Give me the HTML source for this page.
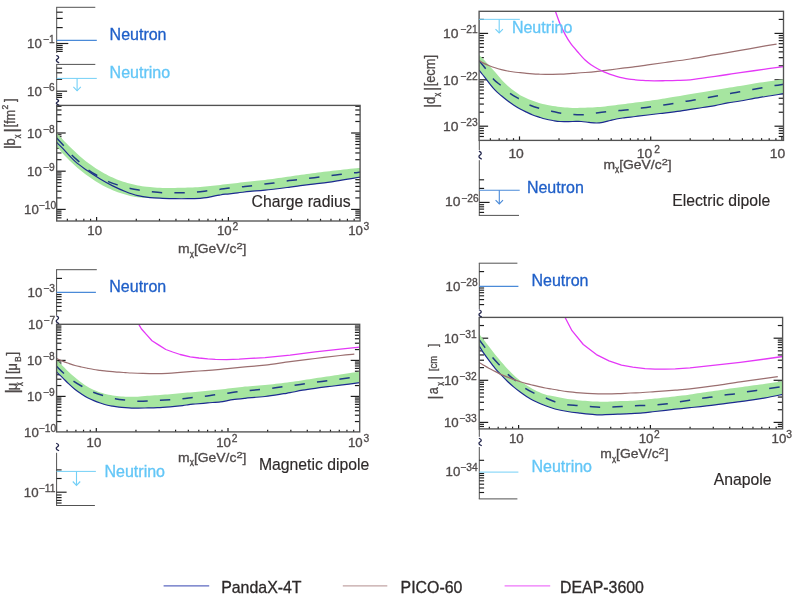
<!DOCTYPE html>
<html lang="en">
<head>
<meta charset="utf-8">
<title>Dark matter electromagnetic properties limits</title>
<style>
html,body{margin:0;padding:0;background:#fff;}
body{width:800px;height:598px;overflow:hidden;font-family:"Liberation Sans", sans-serif;}
svg{display:block;filter:blur(0.35px);}
</style>
</head>
<body>
<svg width="800" height="598" viewBox="0 0 800 598" font-family='"Liberation Sans", sans-serif'>
<rect width="800" height="598" fill="#ffffff"/>
<defs>
<clipPath id="ctl"><rect x="56.7" y="105.4" width="303.4" height="115.6"/></clipPath>
<clipPath id="ctr"><rect x="479.1" y="11.3" width="304.4" height="129.1"/></clipPath>
<clipPath id="cbl"><rect x="56.6" y="324.3" width="303.1" height="107.6"/></clipPath>
<clipPath id="cbr"><rect x="479.2" y="317.4" width="303.4" height="111.5"/></clipPath>
</defs>
<line x1="56.7" y1="217.87" x2="61.5" y2="217.87" stroke="#1e1e1e" stroke-width="1.2" />
<line x1="360.1" y1="217.87" x2="355.3" y2="217.87" stroke="#1e1e1e" stroke-width="1.2" />
<line x1="56.7" y1="215.32" x2="61.5" y2="215.32" stroke="#1e1e1e" stroke-width="1.2" />
<line x1="360.1" y1="215.32" x2="355.3" y2="215.32" stroke="#1e1e1e" stroke-width="1.2" />
<line x1="56.7" y1="213.1" x2="61.5" y2="213.1" stroke="#1e1e1e" stroke-width="1.2" />
<line x1="360.1" y1="213.1" x2="355.3" y2="213.1" stroke="#1e1e1e" stroke-width="1.2" />
<line x1="56.7" y1="211.15" x2="61.5" y2="211.15" stroke="#1e1e1e" stroke-width="1.2" />
<line x1="360.1" y1="211.15" x2="355.3" y2="211.15" stroke="#1e1e1e" stroke-width="1.2" />
<line x1="56.7" y1="209.4" x2="65.7" y2="209.4" stroke="#1e1e1e" stroke-width="1.2" />
<line x1="360.1" y1="209.4" x2="351.1" y2="209.4" stroke="#1e1e1e" stroke-width="1.2" />
<line x1="56.7" y1="197.9" x2="61.5" y2="197.9" stroke="#1e1e1e" stroke-width="1.2" />
<line x1="360.1" y1="197.9" x2="355.3" y2="197.9" stroke="#1e1e1e" stroke-width="1.2" />
<line x1="56.7" y1="191.17" x2="61.5" y2="191.17" stroke="#1e1e1e" stroke-width="1.2" />
<line x1="360.1" y1="191.17" x2="355.3" y2="191.17" stroke="#1e1e1e" stroke-width="1.2" />
<line x1="56.7" y1="186.4" x2="61.5" y2="186.4" stroke="#1e1e1e" stroke-width="1.2" />
<line x1="360.1" y1="186.4" x2="355.3" y2="186.4" stroke="#1e1e1e" stroke-width="1.2" />
<line x1="56.7" y1="182.7" x2="61.5" y2="182.7" stroke="#1e1e1e" stroke-width="1.2" />
<line x1="360.1" y1="182.7" x2="355.3" y2="182.7" stroke="#1e1e1e" stroke-width="1.2" />
<line x1="56.7" y1="179.67" x2="61.5" y2="179.67" stroke="#1e1e1e" stroke-width="1.2" />
<line x1="360.1" y1="179.67" x2="355.3" y2="179.67" stroke="#1e1e1e" stroke-width="1.2" />
<line x1="56.7" y1="177.12" x2="61.5" y2="177.12" stroke="#1e1e1e" stroke-width="1.2" />
<line x1="360.1" y1="177.12" x2="355.3" y2="177.12" stroke="#1e1e1e" stroke-width="1.2" />
<line x1="56.7" y1="174.9" x2="61.5" y2="174.9" stroke="#1e1e1e" stroke-width="1.2" />
<line x1="360.1" y1="174.9" x2="355.3" y2="174.9" stroke="#1e1e1e" stroke-width="1.2" />
<line x1="56.7" y1="172.95" x2="61.5" y2="172.95" stroke="#1e1e1e" stroke-width="1.2" />
<line x1="360.1" y1="172.95" x2="355.3" y2="172.95" stroke="#1e1e1e" stroke-width="1.2" />
<line x1="56.7" y1="171.2" x2="65.7" y2="171.2" stroke="#1e1e1e" stroke-width="1.2" />
<line x1="360.1" y1="171.2" x2="351.1" y2="171.2" stroke="#1e1e1e" stroke-width="1.2" />
<line x1="56.7" y1="159.7" x2="61.5" y2="159.7" stroke="#1e1e1e" stroke-width="1.2" />
<line x1="360.1" y1="159.7" x2="355.3" y2="159.7" stroke="#1e1e1e" stroke-width="1.2" />
<line x1="56.7" y1="152.97" x2="61.5" y2="152.97" stroke="#1e1e1e" stroke-width="1.2" />
<line x1="360.1" y1="152.97" x2="355.3" y2="152.97" stroke="#1e1e1e" stroke-width="1.2" />
<line x1="56.7" y1="148.2" x2="61.5" y2="148.2" stroke="#1e1e1e" stroke-width="1.2" />
<line x1="360.1" y1="148.2" x2="355.3" y2="148.2" stroke="#1e1e1e" stroke-width="1.2" />
<line x1="56.7" y1="144.5" x2="61.5" y2="144.5" stroke="#1e1e1e" stroke-width="1.2" />
<line x1="360.1" y1="144.5" x2="355.3" y2="144.5" stroke="#1e1e1e" stroke-width="1.2" />
<line x1="56.7" y1="141.47" x2="61.5" y2="141.47" stroke="#1e1e1e" stroke-width="1.2" />
<line x1="360.1" y1="141.47" x2="355.3" y2="141.47" stroke="#1e1e1e" stroke-width="1.2" />
<line x1="56.7" y1="138.92" x2="61.5" y2="138.92" stroke="#1e1e1e" stroke-width="1.2" />
<line x1="360.1" y1="138.92" x2="355.3" y2="138.92" stroke="#1e1e1e" stroke-width="1.2" />
<line x1="56.7" y1="136.7" x2="61.5" y2="136.7" stroke="#1e1e1e" stroke-width="1.2" />
<line x1="360.1" y1="136.7" x2="355.3" y2="136.7" stroke="#1e1e1e" stroke-width="1.2" />
<line x1="56.7" y1="134.75" x2="61.5" y2="134.75" stroke="#1e1e1e" stroke-width="1.2" />
<line x1="360.1" y1="134.75" x2="355.3" y2="134.75" stroke="#1e1e1e" stroke-width="1.2" />
<line x1="56.7" y1="133" x2="65.7" y2="133" stroke="#1e1e1e" stroke-width="1.2" />
<line x1="360.1" y1="133" x2="351.1" y2="133" stroke="#1e1e1e" stroke-width="1.2" />
<line x1="56.7" y1="121.5" x2="61.5" y2="121.5" stroke="#1e1e1e" stroke-width="1.2" />
<line x1="360.1" y1="121.5" x2="355.3" y2="121.5" stroke="#1e1e1e" stroke-width="1.2" />
<line x1="56.7" y1="114.77" x2="61.5" y2="114.77" stroke="#1e1e1e" stroke-width="1.2" />
<line x1="360.1" y1="114.77" x2="355.3" y2="114.77" stroke="#1e1e1e" stroke-width="1.2" />
<line x1="56.7" y1="110" x2="61.5" y2="110" stroke="#1e1e1e" stroke-width="1.2" />
<line x1="360.1" y1="110" x2="355.3" y2="110" stroke="#1e1e1e" stroke-width="1.2" />
<line x1="56.7" y1="106.3" x2="61.5" y2="106.3" stroke="#1e1e1e" stroke-width="1.2" />
<line x1="360.1" y1="106.3" x2="355.3" y2="106.3" stroke="#1e1e1e" stroke-width="1.2" />
<line x1="67.36" y1="221" x2="67.36" y2="218.8" stroke="#1e1e1e" stroke-width="1.2" />
<line x1="76.18" y1="221" x2="76.18" y2="218.8" stroke="#1e1e1e" stroke-width="1.2" />
<line x1="83.83" y1="221" x2="83.83" y2="218.8" stroke="#1e1e1e" stroke-width="1.2" />
<line x1="90.57" y1="221" x2="90.57" y2="218.8" stroke="#1e1e1e" stroke-width="1.2" />
<line x1="96.6" y1="221" x2="96.6" y2="217" stroke="#1e1e1e" stroke-width="1.2" />
<line x1="136.28" y1="221" x2="136.28" y2="218.8" stroke="#1e1e1e" stroke-width="1.2" />
<line x1="159.48" y1="221" x2="159.48" y2="218.8" stroke="#1e1e1e" stroke-width="1.2" />
<line x1="175.95" y1="221" x2="175.95" y2="218.8" stroke="#1e1e1e" stroke-width="1.2" />
<line x1="188.72" y1="221" x2="188.72" y2="218.8" stroke="#1e1e1e" stroke-width="1.2" />
<line x1="199.16" y1="221" x2="199.16" y2="218.8" stroke="#1e1e1e" stroke-width="1.2" />
<line x1="207.98" y1="221" x2="207.98" y2="218.8" stroke="#1e1e1e" stroke-width="1.2" />
<line x1="215.63" y1="221" x2="215.63" y2="218.8" stroke="#1e1e1e" stroke-width="1.2" />
<line x1="222.37" y1="221" x2="222.37" y2="218.8" stroke="#1e1e1e" stroke-width="1.2" />
<line x1="228.4" y1="221" x2="228.4" y2="217" stroke="#1e1e1e" stroke-width="1.2" />
<line x1="268.08" y1="221" x2="268.08" y2="218.8" stroke="#1e1e1e" stroke-width="1.2" />
<line x1="291.28" y1="221" x2="291.28" y2="218.8" stroke="#1e1e1e" stroke-width="1.2" />
<line x1="307.75" y1="221" x2="307.75" y2="218.8" stroke="#1e1e1e" stroke-width="1.2" />
<line x1="320.52" y1="221" x2="320.52" y2="218.8" stroke="#1e1e1e" stroke-width="1.2" />
<line x1="330.96" y1="221" x2="330.96" y2="218.8" stroke="#1e1e1e" stroke-width="1.2" />
<line x1="339.78" y1="221" x2="339.78" y2="218.8" stroke="#1e1e1e" stroke-width="1.2" />
<line x1="347.43" y1="221" x2="347.43" y2="218.8" stroke="#1e1e1e" stroke-width="1.2" />
<line x1="354.17" y1="221" x2="354.17" y2="218.8" stroke="#1e1e1e" stroke-width="1.2" />
<line x1="479.1" y1="136.49" x2="483.9" y2="136.49" stroke="#1e1e1e" stroke-width="1.2" />
<line x1="783.5" y1="136.49" x2="778.7" y2="136.49" stroke="#1e1e1e" stroke-width="1.2" />
<line x1="479.1" y1="133.39" x2="483.9" y2="133.39" stroke="#1e1e1e" stroke-width="1.2" />
<line x1="783.5" y1="133.39" x2="778.7" y2="133.39" stroke="#1e1e1e" stroke-width="1.2" />
<line x1="479.1" y1="130.7" x2="483.9" y2="130.7" stroke="#1e1e1e" stroke-width="1.2" />
<line x1="783.5" y1="130.7" x2="778.7" y2="130.7" stroke="#1e1e1e" stroke-width="1.2" />
<line x1="479.1" y1="128.32" x2="483.9" y2="128.32" stroke="#1e1e1e" stroke-width="1.2" />
<line x1="783.5" y1="128.32" x2="778.7" y2="128.32" stroke="#1e1e1e" stroke-width="1.2" />
<line x1="479.1" y1="126.2" x2="488.1" y2="126.2" stroke="#1e1e1e" stroke-width="1.2" />
<line x1="783.5" y1="126.2" x2="774.5" y2="126.2" stroke="#1e1e1e" stroke-width="1.2" />
<line x1="479.1" y1="112.23" x2="483.9" y2="112.23" stroke="#1e1e1e" stroke-width="1.2" />
<line x1="783.5" y1="112.23" x2="778.7" y2="112.23" stroke="#1e1e1e" stroke-width="1.2" />
<line x1="479.1" y1="104.06" x2="483.9" y2="104.06" stroke="#1e1e1e" stroke-width="1.2" />
<line x1="783.5" y1="104.06" x2="778.7" y2="104.06" stroke="#1e1e1e" stroke-width="1.2" />
<line x1="479.1" y1="98.26" x2="483.9" y2="98.26" stroke="#1e1e1e" stroke-width="1.2" />
<line x1="783.5" y1="98.26" x2="778.7" y2="98.26" stroke="#1e1e1e" stroke-width="1.2" />
<line x1="479.1" y1="93.77" x2="483.9" y2="93.77" stroke="#1e1e1e" stroke-width="1.2" />
<line x1="783.5" y1="93.77" x2="778.7" y2="93.77" stroke="#1e1e1e" stroke-width="1.2" />
<line x1="479.1" y1="90.09" x2="483.9" y2="90.09" stroke="#1e1e1e" stroke-width="1.2" />
<line x1="783.5" y1="90.09" x2="778.7" y2="90.09" stroke="#1e1e1e" stroke-width="1.2" />
<line x1="479.1" y1="86.99" x2="483.9" y2="86.99" stroke="#1e1e1e" stroke-width="1.2" />
<line x1="783.5" y1="86.99" x2="778.7" y2="86.99" stroke="#1e1e1e" stroke-width="1.2" />
<line x1="479.1" y1="84.3" x2="483.9" y2="84.3" stroke="#1e1e1e" stroke-width="1.2" />
<line x1="783.5" y1="84.3" x2="778.7" y2="84.3" stroke="#1e1e1e" stroke-width="1.2" />
<line x1="479.1" y1="81.92" x2="483.9" y2="81.92" stroke="#1e1e1e" stroke-width="1.2" />
<line x1="783.5" y1="81.92" x2="778.7" y2="81.92" stroke="#1e1e1e" stroke-width="1.2" />
<line x1="479.1" y1="79.8" x2="488.1" y2="79.8" stroke="#1e1e1e" stroke-width="1.2" />
<line x1="783.5" y1="79.8" x2="774.5" y2="79.8" stroke="#1e1e1e" stroke-width="1.2" />
<line x1="479.1" y1="65.83" x2="483.9" y2="65.83" stroke="#1e1e1e" stroke-width="1.2" />
<line x1="783.5" y1="65.83" x2="778.7" y2="65.83" stroke="#1e1e1e" stroke-width="1.2" />
<line x1="479.1" y1="57.66" x2="483.9" y2="57.66" stroke="#1e1e1e" stroke-width="1.2" />
<line x1="783.5" y1="57.66" x2="778.7" y2="57.66" stroke="#1e1e1e" stroke-width="1.2" />
<line x1="479.1" y1="51.86" x2="483.9" y2="51.86" stroke="#1e1e1e" stroke-width="1.2" />
<line x1="783.5" y1="51.86" x2="778.7" y2="51.86" stroke="#1e1e1e" stroke-width="1.2" />
<line x1="479.1" y1="47.37" x2="483.9" y2="47.37" stroke="#1e1e1e" stroke-width="1.2" />
<line x1="783.5" y1="47.37" x2="778.7" y2="47.37" stroke="#1e1e1e" stroke-width="1.2" />
<line x1="479.1" y1="43.69" x2="483.9" y2="43.69" stroke="#1e1e1e" stroke-width="1.2" />
<line x1="783.5" y1="43.69" x2="778.7" y2="43.69" stroke="#1e1e1e" stroke-width="1.2" />
<line x1="479.1" y1="40.59" x2="483.9" y2="40.59" stroke="#1e1e1e" stroke-width="1.2" />
<line x1="783.5" y1="40.59" x2="778.7" y2="40.59" stroke="#1e1e1e" stroke-width="1.2" />
<line x1="479.1" y1="37.9" x2="483.9" y2="37.9" stroke="#1e1e1e" stroke-width="1.2" />
<line x1="783.5" y1="37.9" x2="778.7" y2="37.9" stroke="#1e1e1e" stroke-width="1.2" />
<line x1="479.1" y1="35.52" x2="483.9" y2="35.52" stroke="#1e1e1e" stroke-width="1.2" />
<line x1="783.5" y1="35.52" x2="778.7" y2="35.52" stroke="#1e1e1e" stroke-width="1.2" />
<line x1="479.1" y1="33.4" x2="488.1" y2="33.4" stroke="#1e1e1e" stroke-width="1.2" />
<line x1="783.5" y1="33.4" x2="774.5" y2="33.4" stroke="#1e1e1e" stroke-width="1.2" />
<line x1="479.1" y1="19.43" x2="483.9" y2="19.43" stroke="#1e1e1e" stroke-width="1.2" />
<line x1="783.5" y1="19.43" x2="778.7" y2="19.43" stroke="#1e1e1e" stroke-width="1.2" />
<line x1="490.39" y1="140.4" x2="490.39" y2="138.2" stroke="#1e1e1e" stroke-width="1.2" />
<line x1="499.18" y1="140.4" x2="499.18" y2="138.2" stroke="#1e1e1e" stroke-width="1.2" />
<line x1="506.79" y1="140.4" x2="506.79" y2="138.2" stroke="#1e1e1e" stroke-width="1.2" />
<line x1="513.5" y1="140.4" x2="513.5" y2="138.2" stroke="#1e1e1e" stroke-width="1.2" />
<line x1="519.5" y1="140.4" x2="519.5" y2="136.4" stroke="#1e1e1e" stroke-width="1.2" />
<line x1="559" y1="140.4" x2="559" y2="138.2" stroke="#1e1e1e" stroke-width="1.2" />
<line x1="582.1" y1="140.4" x2="582.1" y2="138.2" stroke="#1e1e1e" stroke-width="1.2" />
<line x1="598.49" y1="140.4" x2="598.49" y2="138.2" stroke="#1e1e1e" stroke-width="1.2" />
<line x1="611.2" y1="140.4" x2="611.2" y2="138.2" stroke="#1e1e1e" stroke-width="1.2" />
<line x1="621.59" y1="140.4" x2="621.59" y2="138.2" stroke="#1e1e1e" stroke-width="1.2" />
<line x1="630.38" y1="140.4" x2="630.38" y2="138.2" stroke="#1e1e1e" stroke-width="1.2" />
<line x1="637.99" y1="140.4" x2="637.99" y2="138.2" stroke="#1e1e1e" stroke-width="1.2" />
<line x1="644.7" y1="140.4" x2="644.7" y2="138.2" stroke="#1e1e1e" stroke-width="1.2" />
<line x1="650.7" y1="140.4" x2="650.7" y2="136.4" stroke="#1e1e1e" stroke-width="1.2" />
<line x1="690.2" y1="140.4" x2="690.2" y2="138.2" stroke="#1e1e1e" stroke-width="1.2" />
<line x1="713.3" y1="140.4" x2="713.3" y2="138.2" stroke="#1e1e1e" stroke-width="1.2" />
<line x1="729.69" y1="140.4" x2="729.69" y2="138.2" stroke="#1e1e1e" stroke-width="1.2" />
<line x1="742.4" y1="140.4" x2="742.4" y2="138.2" stroke="#1e1e1e" stroke-width="1.2" />
<line x1="752.79" y1="140.4" x2="752.79" y2="138.2" stroke="#1e1e1e" stroke-width="1.2" />
<line x1="761.58" y1="140.4" x2="761.58" y2="138.2" stroke="#1e1e1e" stroke-width="1.2" />
<line x1="769.19" y1="140.4" x2="769.19" y2="138.2" stroke="#1e1e1e" stroke-width="1.2" />
<line x1="775.9" y1="140.4" x2="775.9" y2="138.2" stroke="#1e1e1e" stroke-width="1.2" />
<line x1="781.9" y1="140.4" x2="781.9" y2="136.4" stroke="#1e1e1e" stroke-width="1.2" />
<line x1="56.6" y1="421.56" x2="61.4" y2="421.56" stroke="#1e1e1e" stroke-width="1.2" />
<line x1="359.7" y1="421.56" x2="354.9" y2="421.56" stroke="#1e1e1e" stroke-width="1.2" />
<line x1="56.6" y1="415.22" x2="61.4" y2="415.22" stroke="#1e1e1e" stroke-width="1.2" />
<line x1="359.7" y1="415.22" x2="354.9" y2="415.22" stroke="#1e1e1e" stroke-width="1.2" />
<line x1="56.6" y1="410.73" x2="61.4" y2="410.73" stroke="#1e1e1e" stroke-width="1.2" />
<line x1="359.7" y1="410.73" x2="354.9" y2="410.73" stroke="#1e1e1e" stroke-width="1.2" />
<line x1="56.6" y1="407.24" x2="61.4" y2="407.24" stroke="#1e1e1e" stroke-width="1.2" />
<line x1="359.7" y1="407.24" x2="354.9" y2="407.24" stroke="#1e1e1e" stroke-width="1.2" />
<line x1="56.6" y1="404.39" x2="61.4" y2="404.39" stroke="#1e1e1e" stroke-width="1.2" />
<line x1="359.7" y1="404.39" x2="354.9" y2="404.39" stroke="#1e1e1e" stroke-width="1.2" />
<line x1="56.6" y1="401.98" x2="61.4" y2="401.98" stroke="#1e1e1e" stroke-width="1.2" />
<line x1="359.7" y1="401.98" x2="354.9" y2="401.98" stroke="#1e1e1e" stroke-width="1.2" />
<line x1="56.6" y1="399.89" x2="61.4" y2="399.89" stroke="#1e1e1e" stroke-width="1.2" />
<line x1="359.7" y1="399.89" x2="354.9" y2="399.89" stroke="#1e1e1e" stroke-width="1.2" />
<line x1="56.6" y1="398.05" x2="61.4" y2="398.05" stroke="#1e1e1e" stroke-width="1.2" />
<line x1="359.7" y1="398.05" x2="354.9" y2="398.05" stroke="#1e1e1e" stroke-width="1.2" />
<line x1="56.6" y1="396.4" x2="65.6" y2="396.4" stroke="#1e1e1e" stroke-width="1.2" />
<line x1="359.7" y1="396.4" x2="350.7" y2="396.4" stroke="#1e1e1e" stroke-width="1.2" />
<line x1="56.6" y1="385.56" x2="61.4" y2="385.56" stroke="#1e1e1e" stroke-width="1.2" />
<line x1="359.7" y1="385.56" x2="354.9" y2="385.56" stroke="#1e1e1e" stroke-width="1.2" />
<line x1="56.6" y1="379.22" x2="61.4" y2="379.22" stroke="#1e1e1e" stroke-width="1.2" />
<line x1="359.7" y1="379.22" x2="354.9" y2="379.22" stroke="#1e1e1e" stroke-width="1.2" />
<line x1="56.6" y1="374.73" x2="61.4" y2="374.73" stroke="#1e1e1e" stroke-width="1.2" />
<line x1="359.7" y1="374.73" x2="354.9" y2="374.73" stroke="#1e1e1e" stroke-width="1.2" />
<line x1="56.6" y1="371.24" x2="61.4" y2="371.24" stroke="#1e1e1e" stroke-width="1.2" />
<line x1="359.7" y1="371.24" x2="354.9" y2="371.24" stroke="#1e1e1e" stroke-width="1.2" />
<line x1="56.6" y1="368.39" x2="61.4" y2="368.39" stroke="#1e1e1e" stroke-width="1.2" />
<line x1="359.7" y1="368.39" x2="354.9" y2="368.39" stroke="#1e1e1e" stroke-width="1.2" />
<line x1="56.6" y1="365.98" x2="61.4" y2="365.98" stroke="#1e1e1e" stroke-width="1.2" />
<line x1="359.7" y1="365.98" x2="354.9" y2="365.98" stroke="#1e1e1e" stroke-width="1.2" />
<line x1="56.6" y1="363.89" x2="61.4" y2="363.89" stroke="#1e1e1e" stroke-width="1.2" />
<line x1="359.7" y1="363.89" x2="354.9" y2="363.89" stroke="#1e1e1e" stroke-width="1.2" />
<line x1="56.6" y1="362.05" x2="61.4" y2="362.05" stroke="#1e1e1e" stroke-width="1.2" />
<line x1="359.7" y1="362.05" x2="354.9" y2="362.05" stroke="#1e1e1e" stroke-width="1.2" />
<line x1="56.6" y1="360.4" x2="65.6" y2="360.4" stroke="#1e1e1e" stroke-width="1.2" />
<line x1="359.7" y1="360.4" x2="350.7" y2="360.4" stroke="#1e1e1e" stroke-width="1.2" />
<line x1="56.6" y1="349.56" x2="61.4" y2="349.56" stroke="#1e1e1e" stroke-width="1.2" />
<line x1="359.7" y1="349.56" x2="354.9" y2="349.56" stroke="#1e1e1e" stroke-width="1.2" />
<line x1="56.6" y1="343.22" x2="61.4" y2="343.22" stroke="#1e1e1e" stroke-width="1.2" />
<line x1="359.7" y1="343.22" x2="354.9" y2="343.22" stroke="#1e1e1e" stroke-width="1.2" />
<line x1="56.6" y1="338.73" x2="61.4" y2="338.73" stroke="#1e1e1e" stroke-width="1.2" />
<line x1="359.7" y1="338.73" x2="354.9" y2="338.73" stroke="#1e1e1e" stroke-width="1.2" />
<line x1="56.6" y1="335.24" x2="61.4" y2="335.24" stroke="#1e1e1e" stroke-width="1.2" />
<line x1="359.7" y1="335.24" x2="354.9" y2="335.24" stroke="#1e1e1e" stroke-width="1.2" />
<line x1="56.6" y1="332.39" x2="61.4" y2="332.39" stroke="#1e1e1e" stroke-width="1.2" />
<line x1="359.7" y1="332.39" x2="354.9" y2="332.39" stroke="#1e1e1e" stroke-width="1.2" />
<line x1="56.6" y1="329.98" x2="61.4" y2="329.98" stroke="#1e1e1e" stroke-width="1.2" />
<line x1="359.7" y1="329.98" x2="354.9" y2="329.98" stroke="#1e1e1e" stroke-width="1.2" />
<line x1="56.6" y1="327.89" x2="61.4" y2="327.89" stroke="#1e1e1e" stroke-width="1.2" />
<line x1="359.7" y1="327.89" x2="354.9" y2="327.89" stroke="#1e1e1e" stroke-width="1.2" />
<line x1="56.6" y1="326.05" x2="61.4" y2="326.05" stroke="#1e1e1e" stroke-width="1.2" />
<line x1="359.7" y1="326.05" x2="354.9" y2="326.05" stroke="#1e1e1e" stroke-width="1.2" />
<line x1="67.08" y1="431.9" x2="67.08" y2="429.7" stroke="#1e1e1e" stroke-width="1.2" />
<line x1="75.9" y1="431.9" x2="75.9" y2="429.7" stroke="#1e1e1e" stroke-width="1.2" />
<line x1="83.54" y1="431.9" x2="83.54" y2="429.7" stroke="#1e1e1e" stroke-width="1.2" />
<line x1="90.27" y1="431.9" x2="90.27" y2="429.7" stroke="#1e1e1e" stroke-width="1.2" />
<line x1="96.3" y1="431.9" x2="96.3" y2="427.9" stroke="#1e1e1e" stroke-width="1.2" />
<line x1="135.95" y1="431.9" x2="135.95" y2="429.7" stroke="#1e1e1e" stroke-width="1.2" />
<line x1="159.14" y1="431.9" x2="159.14" y2="429.7" stroke="#1e1e1e" stroke-width="1.2" />
<line x1="175.59" y1="431.9" x2="175.59" y2="429.7" stroke="#1e1e1e" stroke-width="1.2" />
<line x1="188.35" y1="431.9" x2="188.35" y2="429.7" stroke="#1e1e1e" stroke-width="1.2" />
<line x1="198.78" y1="431.9" x2="198.78" y2="429.7" stroke="#1e1e1e" stroke-width="1.2" />
<line x1="207.6" y1="431.9" x2="207.6" y2="429.7" stroke="#1e1e1e" stroke-width="1.2" />
<line x1="215.24" y1="431.9" x2="215.24" y2="429.7" stroke="#1e1e1e" stroke-width="1.2" />
<line x1="221.97" y1="431.9" x2="221.97" y2="429.7" stroke="#1e1e1e" stroke-width="1.2" />
<line x1="228" y1="431.9" x2="228" y2="427.9" stroke="#1e1e1e" stroke-width="1.2" />
<line x1="267.65" y1="431.9" x2="267.65" y2="429.7" stroke="#1e1e1e" stroke-width="1.2" />
<line x1="290.84" y1="431.9" x2="290.84" y2="429.7" stroke="#1e1e1e" stroke-width="1.2" />
<line x1="307.29" y1="431.9" x2="307.29" y2="429.7" stroke="#1e1e1e" stroke-width="1.2" />
<line x1="320.05" y1="431.9" x2="320.05" y2="429.7" stroke="#1e1e1e" stroke-width="1.2" />
<line x1="330.48" y1="431.9" x2="330.48" y2="429.7" stroke="#1e1e1e" stroke-width="1.2" />
<line x1="339.3" y1="431.9" x2="339.3" y2="429.7" stroke="#1e1e1e" stroke-width="1.2" />
<line x1="346.94" y1="431.9" x2="346.94" y2="429.7" stroke="#1e1e1e" stroke-width="1.2" />
<line x1="353.67" y1="431.9" x2="353.67" y2="429.7" stroke="#1e1e1e" stroke-width="1.2" />
<line x1="479.2" y1="426.48" x2="484" y2="426.48" stroke="#1e1e1e" stroke-width="1.2" />
<line x1="782.6" y1="426.48" x2="777.8" y2="426.48" stroke="#1e1e1e" stroke-width="1.2" />
<line x1="479.2" y1="424.33" x2="484" y2="424.33" stroke="#1e1e1e" stroke-width="1.2" />
<line x1="782.6" y1="424.33" x2="777.8" y2="424.33" stroke="#1e1e1e" stroke-width="1.2" />
<line x1="479.2" y1="422.4" x2="488.2" y2="422.4" stroke="#1e1e1e" stroke-width="1.2" />
<line x1="782.6" y1="422.4" x2="773.6" y2="422.4" stroke="#1e1e1e" stroke-width="1.2" />
<line x1="479.2" y1="409.73" x2="484" y2="409.73" stroke="#1e1e1e" stroke-width="1.2" />
<line x1="782.6" y1="409.73" x2="777.8" y2="409.73" stroke="#1e1e1e" stroke-width="1.2" />
<line x1="479.2" y1="402.31" x2="484" y2="402.31" stroke="#1e1e1e" stroke-width="1.2" />
<line x1="782.6" y1="402.31" x2="777.8" y2="402.31" stroke="#1e1e1e" stroke-width="1.2" />
<line x1="479.2" y1="397.05" x2="484" y2="397.05" stroke="#1e1e1e" stroke-width="1.2" />
<line x1="782.6" y1="397.05" x2="777.8" y2="397.05" stroke="#1e1e1e" stroke-width="1.2" />
<line x1="479.2" y1="392.97" x2="484" y2="392.97" stroke="#1e1e1e" stroke-width="1.2" />
<line x1="782.6" y1="392.97" x2="777.8" y2="392.97" stroke="#1e1e1e" stroke-width="1.2" />
<line x1="479.2" y1="389.64" x2="484" y2="389.64" stroke="#1e1e1e" stroke-width="1.2" />
<line x1="782.6" y1="389.64" x2="777.8" y2="389.64" stroke="#1e1e1e" stroke-width="1.2" />
<line x1="479.2" y1="386.82" x2="484" y2="386.82" stroke="#1e1e1e" stroke-width="1.2" />
<line x1="782.6" y1="386.82" x2="777.8" y2="386.82" stroke="#1e1e1e" stroke-width="1.2" />
<line x1="479.2" y1="384.38" x2="484" y2="384.38" stroke="#1e1e1e" stroke-width="1.2" />
<line x1="782.6" y1="384.38" x2="777.8" y2="384.38" stroke="#1e1e1e" stroke-width="1.2" />
<line x1="479.2" y1="382.23" x2="484" y2="382.23" stroke="#1e1e1e" stroke-width="1.2" />
<line x1="782.6" y1="382.23" x2="777.8" y2="382.23" stroke="#1e1e1e" stroke-width="1.2" />
<line x1="479.2" y1="380.3" x2="488.2" y2="380.3" stroke="#1e1e1e" stroke-width="1.2" />
<line x1="782.6" y1="380.3" x2="773.6" y2="380.3" stroke="#1e1e1e" stroke-width="1.2" />
<line x1="479.2" y1="367.63" x2="484" y2="367.63" stroke="#1e1e1e" stroke-width="1.2" />
<line x1="782.6" y1="367.63" x2="777.8" y2="367.63" stroke="#1e1e1e" stroke-width="1.2" />
<line x1="479.2" y1="360.21" x2="484" y2="360.21" stroke="#1e1e1e" stroke-width="1.2" />
<line x1="782.6" y1="360.21" x2="777.8" y2="360.21" stroke="#1e1e1e" stroke-width="1.2" />
<line x1="479.2" y1="354.95" x2="484" y2="354.95" stroke="#1e1e1e" stroke-width="1.2" />
<line x1="782.6" y1="354.95" x2="777.8" y2="354.95" stroke="#1e1e1e" stroke-width="1.2" />
<line x1="479.2" y1="350.87" x2="484" y2="350.87" stroke="#1e1e1e" stroke-width="1.2" />
<line x1="782.6" y1="350.87" x2="777.8" y2="350.87" stroke="#1e1e1e" stroke-width="1.2" />
<line x1="479.2" y1="347.54" x2="484" y2="347.54" stroke="#1e1e1e" stroke-width="1.2" />
<line x1="782.6" y1="347.54" x2="777.8" y2="347.54" stroke="#1e1e1e" stroke-width="1.2" />
<line x1="479.2" y1="344.72" x2="484" y2="344.72" stroke="#1e1e1e" stroke-width="1.2" />
<line x1="782.6" y1="344.72" x2="777.8" y2="344.72" stroke="#1e1e1e" stroke-width="1.2" />
<line x1="479.2" y1="342.28" x2="484" y2="342.28" stroke="#1e1e1e" stroke-width="1.2" />
<line x1="782.6" y1="342.28" x2="777.8" y2="342.28" stroke="#1e1e1e" stroke-width="1.2" />
<line x1="479.2" y1="340.13" x2="484" y2="340.13" stroke="#1e1e1e" stroke-width="1.2" />
<line x1="782.6" y1="340.13" x2="777.8" y2="340.13" stroke="#1e1e1e" stroke-width="1.2" />
<line x1="479.2" y1="338.2" x2="488.2" y2="338.2" stroke="#1e1e1e" stroke-width="1.2" />
<line x1="782.6" y1="338.2" x2="773.6" y2="338.2" stroke="#1e1e1e" stroke-width="1.2" />
<line x1="479.2" y1="325.53" x2="484" y2="325.53" stroke="#1e1e1e" stroke-width="1.2" />
<line x1="782.6" y1="325.53" x2="777.8" y2="325.53" stroke="#1e1e1e" stroke-width="1.2" />
<line x1="489.36" y1="428.9" x2="489.36" y2="426.7" stroke="#1e1e1e" stroke-width="1.2" />
<line x1="498.18" y1="428.9" x2="498.18" y2="426.7" stroke="#1e1e1e" stroke-width="1.2" />
<line x1="505.83" y1="428.9" x2="505.83" y2="426.7" stroke="#1e1e1e" stroke-width="1.2" />
<line x1="512.57" y1="428.9" x2="512.57" y2="426.7" stroke="#1e1e1e" stroke-width="1.2" />
<line x1="518.6" y1="428.9" x2="518.6" y2="424.9" stroke="#1e1e1e" stroke-width="1.2" />
<line x1="558.28" y1="428.9" x2="558.28" y2="426.7" stroke="#1e1e1e" stroke-width="1.2" />
<line x1="581.48" y1="428.9" x2="581.48" y2="426.7" stroke="#1e1e1e" stroke-width="1.2" />
<line x1="597.95" y1="428.9" x2="597.95" y2="426.7" stroke="#1e1e1e" stroke-width="1.2" />
<line x1="610.72" y1="428.9" x2="610.72" y2="426.7" stroke="#1e1e1e" stroke-width="1.2" />
<line x1="621.16" y1="428.9" x2="621.16" y2="426.7" stroke="#1e1e1e" stroke-width="1.2" />
<line x1="629.98" y1="428.9" x2="629.98" y2="426.7" stroke="#1e1e1e" stroke-width="1.2" />
<line x1="637.63" y1="428.9" x2="637.63" y2="426.7" stroke="#1e1e1e" stroke-width="1.2" />
<line x1="644.37" y1="428.9" x2="644.37" y2="426.7" stroke="#1e1e1e" stroke-width="1.2" />
<line x1="650.4" y1="428.9" x2="650.4" y2="424.9" stroke="#1e1e1e" stroke-width="1.2" />
<line x1="690.08" y1="428.9" x2="690.08" y2="426.7" stroke="#1e1e1e" stroke-width="1.2" />
<line x1="713.28" y1="428.9" x2="713.28" y2="426.7" stroke="#1e1e1e" stroke-width="1.2" />
<line x1="729.75" y1="428.9" x2="729.75" y2="426.7" stroke="#1e1e1e" stroke-width="1.2" />
<line x1="742.52" y1="428.9" x2="742.52" y2="426.7" stroke="#1e1e1e" stroke-width="1.2" />
<line x1="752.96" y1="428.9" x2="752.96" y2="426.7" stroke="#1e1e1e" stroke-width="1.2" />
<line x1="761.78" y1="428.9" x2="761.78" y2="426.7" stroke="#1e1e1e" stroke-width="1.2" />
<line x1="769.43" y1="428.9" x2="769.43" y2="426.7" stroke="#1e1e1e" stroke-width="1.2" />
<line x1="776.17" y1="428.9" x2="776.17" y2="426.7" stroke="#1e1e1e" stroke-width="1.2" />
<path d="M56.7,133 L59.21,135.75 L62.5,139.3 L64.56,141.44 L66.68,143.59 L68.8,145.7 L70.9,147.77 L73,149.8 L75.1,151.8 L77.2,153.79 L79.31,155.74 L81.4,157.6 L83.47,159.31 L85.53,160.93 L87.6,162.5 L89.69,164.05 L91.8,165.55 L93.9,167 L96,168.39 L98.1,169.71 L100.2,171 L102.3,172.25 L104.41,173.46 L106.5,174.6 L108.57,175.66 L110.63,176.65 L112.7,177.6 L114.79,178.51 L116.9,179.39 L119,180.2 L121.1,180.95 L123.2,181.65 L125.3,182.3 L127.4,182.91 L129.51,183.47 L131.6,184 L133.67,184.5 L135.73,184.97 L137.8,185.4 L139.91,185.81 L142.03,186.18 L144.1,186.5 L146.66,186.82 L150,187.1 L152.08,187.26 L154.52,187.44 L157.18,187.63 L159.89,187.79 L162.5,187.9 L165.02,187.96 L167.54,187.97 L170.06,187.96 L172.58,187.93 L175.1,187.9 L177.6,187.86 L180.1,187.82 L182.6,187.76 L185.1,187.68 L187.6,187.6 L190.12,187.51 L192.64,187.41 L195.16,187.3 L197.68,187.16 L200.2,187 L202.7,186.8 L205.2,186.58 L207.7,186.33 L210.2,186.07 L212.7,185.8 L215.22,185.52 L217.74,185.22 L220.26,184.91 L222.78,184.6 L225.3,184.3 L227.81,184.02 L230.32,183.74 L232.83,183.46 L235.32,183.18 L237.8,182.9 L240.21,182.61 L242.57,182.31 L244.93,182 L247.39,181.7 L250,181.4 L252.22,181.17 L254.42,180.97 L256.69,180.78 L259.15,180.55 L261.88,180.27 L265,179.9 L267.35,179.6 L269.9,179.26 L272.62,178.88 L275.46,178.48 L278.39,178.07 L281.36,177.64 L284.33,177.22 L287.26,176.8 L290.1,176.4 L292.89,176.01 L295.68,175.61 L298.47,175.21 L301.26,174.82 L304.04,174.42 L306.83,174.03 L309.62,173.64 L312.41,173.27 L315.2,172.9 L318.02,172.54 L320.87,172.18 L323.75,171.83 L326.63,171.48 L329.49,171.14 L332.3,170.81 L335.06,170.49 L337.73,170.19 L340.3,169.9 L343.61,169.54 L346.99,169.2 L350.32,168.87 L353.45,168.56 L356.27,168.3 L358.63,168.07 L360.4,167.9 L360.4,177 L358.61,177.31 L355.98,177.76 L352.8,178.3 L350.62,178.67 L348.16,179.09 L345.54,179.53 L342.88,179.97 L340.3,180.4 L337.78,180.81 L335.26,181.23 L332.74,181.64 L330.22,182.03 L327.7,182.4 L325.2,182.73 L322.7,183.04 L320.2,183.32 L317.7,183.61 L315.2,183.9 L312.68,184.2 L310.16,184.49 L307.64,184.79 L305.12,185.09 L302.6,185.4 L300.3,185.7 L298.2,186 L296,186.31 L293.4,186.67 L290.1,187.1 L287.81,187.39 L285.18,187.73 L282.29,188.1 L279.25,188.49 L276.15,188.88 L273.09,189.26 L270.14,189.61 L267.41,189.93 L265,190.2 L261.88,190.51 L259.15,190.73 L256.69,190.9 L254.42,191.05 L252.22,191.2 L250,191.4 L247.39,191.68 L244.93,191.99 L242.57,192.3 L240.21,192.61 L237.8,192.9 L235.22,193.18 L232.52,193.45 L229.87,193.71 L227.41,193.96 L225.3,194.2 L222.74,194.55 L220.87,194.86 L219,195.2 L216.9,195.58 L214.79,195.99 L212.7,196.4 L210.63,196.85 L208.57,197.31 L206.5,197.7 L204.64,197.96 L202.77,198.14 L200.2,198.3 L198.08,198.4 L195.61,198.49 L192.94,198.58 L190.21,198.65 L187.6,198.7 L185.1,198.73 L182.6,198.75 L180.1,198.75 L177.6,198.73 L175.1,198.7 L172.58,198.64 L170.06,198.56 L167.54,198.47 L165.02,198.38 L162.5,198.3 L159.99,198.24 L157.48,198.19 L154.97,198.14 L152.48,198.08 L150,198 L147.55,197.92 L145.11,197.84 L142.69,197.74 L140.25,197.57 L137.8,197.3 L135.32,196.92 L132.83,196.45 L130.32,195.9 L127.81,195.28 L125.3,194.6 L122.78,193.86 L120.26,193.05 L117.74,192.17 L115.22,191.22 L112.7,190.2 L110.2,189.11 L107.7,187.95 L105.2,186.71 L102.7,185.4 L100.2,184 L97.68,182.52 L95.16,180.95 L92.64,179.31 L90.12,177.59 L87.6,175.8 L85.1,173.96 L82.6,172.05 L80.1,170.07 L77.6,168 L75.1,165.8 L72.48,163.36 L69.74,160.68 L67.06,157.97 L64.59,155.41 L62.5,153.2 L58.81,148.86 L56.7,146.1 Z" fill="#a6e5a0" stroke="none" clip-path="url(#ctl)"/>
<path d="M56.7,142.4 C57.67,143.37 59.43,145.03 62.5,148.2 C65.57,151.37 70.92,157.63 75.1,161.4 C79.28,165.17 83.42,167.87 87.6,170.8 C91.78,173.73 96.02,176.48 100.2,179 C104.38,181.52 108.52,183.82 112.7,185.9 C116.88,187.98 121.12,189.87 125.3,191.5 C129.48,193.13 133.68,194.68 137.8,195.7 C141.92,196.72 145.88,197.17 150,197.6 C154.12,198.03 158.32,198.12 162.5,198.3 C166.68,198.48 170.92,198.63 175.1,198.7 C179.28,198.77 183.42,198.77 187.6,198.7 C191.78,198.63 197.05,198.47 200.2,198.3 C203.35,198.13 204.42,198.02 206.5,197.7 C208.58,197.38 210.62,196.82 212.7,196.4 C214.78,195.98 216.9,195.57 219,195.2 C221.1,194.83 222.17,194.58 225.3,194.2 C228.43,193.82 233.68,193.37 237.8,192.9 C241.92,192.43 245.47,191.85 250,191.4 C254.53,190.95 258.32,190.92 265,190.2 C271.68,189.48 283.83,187.9 290.1,187.1 C296.37,186.3 298.42,185.93 302.6,185.4 C306.78,184.87 311.02,184.4 315.2,183.9 C319.38,183.4 323.52,182.98 327.7,182.4 C331.88,181.82 336.12,181.08 340.3,180.4 C344.48,179.72 349.45,178.87 352.8,178.3 C356.15,177.73 359.13,177.22 360.4,177" fill="none" stroke="#1c2a90" stroke-width="1.2" stroke-linejoin="round" clip-path="url(#ctl)"/>
<path d="M56.7,138 C57.88,139.28 61.25,142.83 63.8,145.7 C66.35,148.57 69.38,152.48 72,155.2 C74.62,157.92 76.68,159.48 79.5,162 C82.32,164.52 85.87,168 88.9,170.3 C91.93,172.6 94.47,173.92 97.7,175.8 C100.93,177.68 104.85,180.03 108.3,181.6 C111.75,183.17 114.73,184.05 118.4,185.2 C122.07,186.35 126.75,187.67 130.3,188.5 C133.85,189.33 136.1,189.65 139.7,190.2 C143.3,190.75 148.1,191.38 151.9,191.8 C155.7,192.22 158.73,192.53 162.5,192.7 C166.27,192.87 170.73,192.8 174.5,192.8 C178.27,192.8 181.35,192.83 185.1,192.7 C188.85,192.57 193.23,192.32 197,192 C200.77,191.68 204.03,191.22 207.7,190.8 C211.37,190.38 215.23,189.97 219,189.5 C222.77,189.03 226.43,188.45 230.3,188 C234.17,187.55 238.92,187.13 242.2,186.8 C245.48,186.47 246.2,186.48 250,186 C253.8,185.52 261.03,184.4 265,183.9 C268.97,183.4 270.25,183.48 273.8,183 C277.35,182.52 282.43,181.53 286.3,181 C290.17,180.47 293.23,180.25 297,179.8 C300.77,179.35 305.13,178.77 308.9,178.3 C312.67,177.83 315.83,177.47 319.6,177 C323.37,176.53 327.73,175.98 331.5,175.5 C335.27,175.02 338.53,174.53 342.2,174.1 C345.87,173.67 350.47,173.25 353.5,172.9 C356.53,172.55 359.25,172.15 360.4,172" fill="none" stroke="#1f3a86" stroke-width="1.5" stroke-linejoin="round" stroke-dasharray="10.4 12.2" clip-path="url(#ctl)"/>
<path d="M479,55 L480.36,56.17 L482.5,58.2 L484.39,60.23 L486.6,62.66 L488.8,65.1 L490.9,67.38 L493,69.66 L495.1,72 L497.2,74.5 L499.31,77.07 L501.4,79.5 L503.47,81.74 L505.53,83.84 L507.6,85.8 L509.69,87.59 L511.8,89.23 L513.9,90.8 L516,92.36 L518.1,93.85 L520.2,95.2 L522.3,96.35 L524.41,97.36 L526.5,98.3 L528.57,99.19 L530.63,100.01 L532.7,100.8 L534.79,101.58 L536.9,102.32 L539,103 L540.87,103.56 L542.74,104.05 L545.3,104.6 L547.49,105.01 L550.11,105.47 L552.88,105.94 L555.54,106.36 L557.8,106.7 L560.58,107.04 L562.77,107.23 L565,107.4 L567.29,107.61 L569.61,107.79 L572.5,107.9 L574.7,107.91 L577.18,107.89 L579.82,107.84 L582.5,107.78 L585.1,107.7 L587.6,107.62 L590.1,107.52 L592.6,107.41 L595.1,107.27 L597.6,107.1 L600.12,106.89 L602.64,106.64 L605.16,106.38 L607.68,106.09 L610.2,105.8 L612.7,105.5 L615.2,105.18 L617.7,104.85 L620.2,104.52 L622.7,104.2 L625.22,103.88 L627.74,103.56 L630.26,103.24 L632.78,102.92 L635.3,102.6 L637.81,102.28 L640.32,101.97 L642.83,101.65 L645.32,101.33 L647.8,101 L650.13,100.68 L652.33,100.37 L654.57,100.04 L657.07,99.66 L660,99.2 L662.32,98.83 L664.71,98.44 L667.24,98.02 L669.97,97.57 L672.97,97.07 L676.29,96.52 L680,95.9 L682.42,95.5 L685.08,95.06 L687.93,94.59 L690.93,94.09 L694.03,93.58 L697.19,93.06 L700.37,92.53 L703.52,92.01 L706.6,91.5 L709.57,91 L712.39,90.54 L715,90.1 L718.24,89.56 L721.32,89.04 L724.26,88.55 L727.07,88.07 L729.78,87.62 L732.41,87.17 L734.97,86.74 L737.5,86.32 L740,85.9 L743.09,85.38 L745.97,84.89 L748.73,84.43 L751.44,83.97 L754.17,83.52 L757,83.07 L760,82.6 L762.94,82.16 L766.2,81.68 L769.62,81.18 L773.05,80.69 L776.32,80.23 L779.28,79.81 L781.75,79.46 L783.6,79.2 L783.6,93.7 L781.75,93.99 L779.27,94.37 L776.31,94.82 L773.04,95.33 L769.61,95.86 L766.19,96.4 L762.93,96.92 L760,97.4 L756.91,97.93 L753.85,98.49 L750.86,99.04 L747.97,99.58 L745.21,100.1 L742.61,100.58 L740.2,101 L737.25,101.48 L734.73,101.84 L732.43,102.16 L730.19,102.5 L727.8,102.9 L725.26,103.4 L722.68,103.96 L720.1,104.54 L717.53,105.1 L715,105.6 L712.67,106 L710.54,106.33 L708.34,106.65 L705.82,107.02 L702.7,107.5 L700.34,107.89 L697.69,108.33 L694.83,108.82 L691.83,109.33 L688.77,109.84 L685.73,110.33 L682.78,110.79 L680,111.2 L676.93,111.61 L673.86,111.98 L670.83,112.33 L667.88,112.64 L665.07,112.94 L662.42,113.23 L660,113.5 L657.07,113.85 L654.57,114.16 L652.33,114.44 L650.13,114.71 L647.8,115 L645.32,115.3 L642.83,115.6 L640.32,115.9 L637.81,116.2 L635.3,116.5 L632.68,116.81 L629.96,117.12 L627.28,117.44 L624.81,117.73 L622.7,118 L620.16,118.35 L618.34,118.65 L616.5,119 L614.45,119.45 L612.39,119.95 L610.2,120.5 L607.74,121.15 L605.16,121.85 L602.7,122.4 L600.56,122.74 L598.54,122.94 L596.4,123 L593.99,122.9 L591.45,122.67 L588.9,122.4 L586.42,122.09 L583.93,121.74 L581.3,121.5 L578.59,121.43 L575.75,121.47 L572.5,121.5 L570.15,121.52 L567.51,121.55 L564.79,121.57 L562.21,121.56 L560,121.5 L557.25,121.26 L555.1,120.91 L552.9,120.5 L550.36,120.05 L547.76,119.55 L545.3,119 L543.1,118.4 L541.05,117.76 L539,117.1 L536.9,116.44 L534.79,115.77 L532.7,115 L530.63,114.1 L528.57,113.11 L526.5,112.1 L524.41,111.11 L522.3,110.09 L520.2,109 L518.1,107.81 L516,106.54 L513.9,105.2 L511.8,103.8 L509.69,102.33 L507.6,100.8 L505.53,99.2 L503.47,97.53 L501.4,95.8 L499.31,94.05 L497.2,92.24 L495.1,90.2 L493,87.83 L490.9,85.24 L488.8,82.6 L486.6,79.8 L484.39,76.94 L482.5,74.5 L480.36,71.79 L479,70.1 Z" fill="#a6e5a0" stroke="none" clip-path="url(#ctr)"/>
<path d="M479,70.1 C479.58,70.83 480.87,72.42 482.5,74.5 C484.13,76.58 486.7,79.98 488.8,82.6 C490.9,85.22 493,88 495.1,90.2 C497.2,92.4 499.32,94.03 501.4,95.8 C503.48,97.57 505.52,99.23 507.6,100.8 C509.68,102.37 511.8,103.83 513.9,105.2 C516,106.57 518.1,107.85 520.2,109 C522.3,110.15 524.42,111.1 526.5,112.1 C528.58,113.1 530.62,114.17 532.7,115 C534.78,115.83 536.9,116.43 539,117.1 C541.1,117.77 542.98,118.43 545.3,119 C547.62,119.57 550.45,120.08 552.9,120.5 C555.35,120.92 556.73,121.33 560,121.5 C563.27,121.67 568.95,121.5 572.5,121.5 C576.05,121.5 578.57,121.35 581.3,121.5 C584.03,121.65 586.38,122.15 588.9,122.4 C591.42,122.65 594.1,123 596.4,123 C598.7,123 600.4,122.82 602.7,122.4 C605,121.98 607.9,121.07 610.2,120.5 C612.5,119.93 614.42,119.42 616.5,119 C618.58,118.58 619.57,118.42 622.7,118 C625.83,117.58 631.12,117 635.3,116.5 C639.48,116 643.68,115.5 647.8,115 C651.92,114.5 654.63,114.13 660,113.5 C665.37,112.87 672.88,112.2 680,111.2 C687.12,110.2 696.87,108.43 702.7,107.5 C708.53,106.57 710.82,106.37 715,105.6 C719.18,104.83 723.6,103.67 727.8,102.9 C732,102.13 734.83,101.92 740.2,101 C745.57,100.08 752.77,98.62 760,97.4 C767.23,96.18 779.67,94.32 783.6,93.7" fill="none" stroke="#1c2a90" stroke-width="1.2" stroke-linejoin="round" clip-path="url(#ctr)"/>
<path d="M479,60.7 C480.22,62.17 483.83,66.37 486.3,69.5 C488.77,72.63 491.28,76.78 493.8,79.5 C496.32,82.22 498.57,83.4 501.4,85.8 C504.23,88.2 507.77,91.67 510.8,93.9 C513.83,96.13 516.37,97.32 519.6,99.2 C522.83,101.08 526.87,103.67 530.2,105.2 C533.53,106.73 536.03,107.4 539.6,108.4 C543.17,109.4 547.83,110.37 551.6,111.2 C555.37,112.03 558.5,112.83 562.2,113.4 C565.9,113.97 569.98,114.4 573.8,114.6 C577.62,114.8 581.33,114.88 585.1,114.6 C588.87,114.32 592.73,113.4 596.4,112.9 C600.07,112.4 603.33,111.98 607.1,111.6 C610.87,111.22 615.25,110.93 619,110.6 C622.75,110.27 625.88,110.02 629.6,109.6 C633.32,109.18 637.58,108.58 641.3,108.1 C645.02,107.62 648.15,107.22 651.9,106.7 C655.65,106.18 660.03,105.57 663.8,105 C667.57,104.43 670.73,103.93 674.5,103.3 C678.27,102.67 682.63,101.82 686.4,101.2 C690.17,100.58 693.43,100.22 697.1,99.6 C700.77,98.98 704.75,98.17 708.4,97.5 C712.05,96.83 715.35,96.28 719,95.6 C722.65,94.92 726.57,94.08 730.3,93.4 C734.03,92.72 737.67,92.17 741.4,91.5 C745.13,90.83 749.03,90.05 752.7,89.4 C756.37,88.75 759.73,88.23 763.4,87.6 C767.07,86.97 771.33,86.17 774.7,85.6 C778.07,85.03 782.12,84.43 783.6,84.2" fill="none" stroke="#1f3a86" stroke-width="1.5" stroke-linejoin="round" stroke-dasharray="10.4 12.2" clip-path="url(#ctr)"/>
<path d="M479,60.3 C479.58,60.68 480.87,61.73 482.5,62.6 C484.13,63.47 486.7,64.63 488.8,65.5 C490.9,66.37 493,67.12 495.1,67.8 C497.2,68.48 499.32,69.07 501.4,69.6 C503.48,70.13 505.52,70.6 507.6,71 C509.68,71.4 511.8,71.72 513.9,72 C516,72.28 518.1,72.47 520.2,72.7 C522.3,72.93 524.42,73.2 526.5,73.4 C528.58,73.6 530.62,73.77 532.7,73.9 C534.78,74.03 536.9,74.12 539,74.2 C541.1,74.28 543.2,74.37 545.3,74.4 C547.4,74.43 549.15,74.43 551.6,74.4 C554.05,74.37 556.52,74.37 560,74.2 C563.48,74.03 568.32,73.68 572.5,73.4 C576.68,73.12 580.92,72.85 585.1,72.5 C589.28,72.15 593.42,71.75 597.6,71.3 C601.78,70.85 606.02,70.32 610.2,69.8 C614.38,69.28 618.52,68.72 622.7,68.2 C626.88,67.68 631.12,67.27 635.3,66.7 C639.48,66.13 642.83,65.5 647.8,64.8 C652.77,64.1 658.03,63.47 665.1,62.5 C672.17,61.53 681.85,60.3 690.2,59 C698.55,57.7 706.87,56.13 715.2,54.7 C723.53,53.27 731.85,51.87 740.2,50.4 C748.55,48.93 759.23,46.93 765.3,45.9 C771.37,44.87 774.72,44.48 776.6,44.2" fill="none" stroke="#9b6f70" stroke-width="1.2" stroke-linejoin="round" clip-path="url(#ctr)"/>
<path d="M554,7 C554.23,7.72 554.32,8.28 555.4,11.3 C556.48,14.32 558.82,21.13 560.5,25.1 C562.18,29.07 563.83,32.08 565.5,35.1 C567.17,38.12 568.42,40.35 570.5,43.2 C572.58,46.05 575.57,49.4 578,52.2 C580.43,55 582.87,57.87 585.1,60 C587.33,62.13 589.32,63.53 591.4,65 C593.48,66.47 595.52,67.65 597.6,68.8 C599.68,69.95 601.8,70.97 603.9,71.9 C606,72.83 608.1,73.67 610.2,74.4 C612.3,75.13 614.42,75.72 616.5,76.3 C618.58,76.88 620.62,77.43 622.7,77.9 C624.78,78.37 626.9,78.78 629,79.1 C631.1,79.42 633.2,79.6 635.3,79.8 C637.4,80 639.52,80.15 641.6,80.3 C643.68,80.45 645.72,80.62 647.8,80.7 C649.88,80.78 651.22,80.8 654.1,80.8 C656.98,80.8 661.18,80.77 665.1,80.7 C669.02,80.63 673.42,80.55 677.6,80.4 C681.78,80.25 686.02,80.18 690.2,79.8 C694.38,79.42 698.53,78.67 702.7,78.1 C706.87,77.53 711.02,77 715.2,76.4 C719.38,75.8 723.63,75.12 727.8,74.5 C731.97,73.88 733.95,73.6 740.2,72.7 C746.45,71.8 758.07,70.12 765.3,69.1 C772.53,68.08 780.55,67.02 783.6,66.6" fill="none" stroke="#e438f7" stroke-width="1.3" stroke-linejoin="round" clip-path="url(#ctr)"/>
<path d="M56.5,360.1 L58.04,361.53 L60.26,363.57 L62.5,365.7 L64.58,367.77 L66.69,369.93 L68.8,372 L70.9,373.94 L73,375.8 L75.1,377.6 L77.2,379.34 L79.31,381.01 L81.4,382.6 L83.47,384.1 L85.53,385.51 L87.6,386.8 L89.69,387.94 L91.8,388.95 L93.9,389.9 L96,390.8 L98.1,391.64 L100.2,392.4 L102.3,393.07 L104.41,393.67 L106.5,394.2 L108.57,394.66 L110.63,395.05 L112.7,395.4 L114.79,395.71 L116.9,395.97 L119,396.2 L121.1,396.4 L123.2,396.57 L125.3,396.7 L127.4,396.77 L129.51,396.8 L131.6,396.8 L133.64,396.8 L135.66,396.79 L137.8,396.7 L139.93,396.51 L142.17,396.26 L145,396 L147.16,395.85 L149.61,395.7 L152.24,395.54 L154.91,395.37 L157.5,395.2 L160.02,395.02 L162.54,394.82 L165.06,394.62 L167.58,394.42 L170.1,394.2 L172.6,393.97 L175.1,393.72 L177.6,393.48 L180.1,393.23 L182.6,393 L185.12,392.79 L187.64,392.6 L190.16,392.4 L192.68,392.21 L195.2,392 L197.7,391.77 L200.2,391.54 L202.7,391.3 L205.2,391.05 L207.7,390.8 L210.22,390.55 L212.74,390.3 L215.26,390.04 L217.78,389.77 L220.3,389.5 L222.81,389.21 L225.32,388.91 L227.83,388.6 L230.32,388.3 L232.8,388 L235.13,387.72 L237.33,387.44 L239.57,387.17 L242.07,386.89 L245,386.6 L247.4,386.39 L250,386.2 L252.76,386 L255.66,385.79 L258.69,385.56 L261.81,385.3 L265,385 L267.57,384.74 L270.23,384.46 L272.99,384.16 L275.81,383.85 L278.66,383.52 L281.54,383.18 L284.42,382.83 L287.28,382.47 L290.1,382.1 L292.89,381.72 L295.68,381.32 L298.47,380.9 L301.26,380.47 L304.04,380.04 L306.83,379.6 L309.62,379.16 L312.41,378.73 L315.2,378.3 L318.02,377.87 L320.89,377.44 L323.77,377 L326.66,376.56 L329.53,376.13 L332.35,375.7 L335.1,375.28 L337.76,374.88 L340.3,374.5 L343.55,374.01 L346.85,373.52 L350.07,373.04 L353.1,372.59 L355.81,372.19 L358.09,371.85 L359.8,371.6 L359.8,382.7 L357.98,382.93 L355.45,383.26 L352.45,383.65 L349.2,384.07 L345.94,384.49 L342.89,384.87 L340.3,385.2 L337.34,385.56 L334.76,385.87 L332.4,386.14 L330.1,386.41 L327.7,386.7 L325.2,387.01 L322.7,387.32 L320.2,387.63 L317.7,387.96 L315.2,388.3 L312.68,388.65 L310.16,389.01 L307.64,389.38 L305.12,389.78 L302.6,390.2 L299.99,390.69 L297.3,391.23 L294.65,391.78 L292.2,392.29 L290.1,392.7 L288,393.08 L286.6,393.29 L283.8,393.7 L281.78,394.01 L279.37,394.4 L276.68,394.83 L273.8,395.28 L270.82,395.72 L267.86,396.14 L265,396.5 L262.14,396.81 L259.15,397.1 L256.1,397.37 L253.09,397.62 L250.18,397.85 L247.46,398.08 L245,398.3 L241.96,398.59 L239.27,398.86 L236.87,399.11 L234.73,399.35 L232.8,399.6 L230.29,400.01 L228.45,400.42 L226.6,400.8 L224.74,401.14 L222.87,401.47 L220.3,401.8 L218.18,402.01 L215.71,402.23 L213.04,402.46 L210.31,402.68 L207.7,402.9 L205.09,403.13 L202.4,403.36 L199.75,403.6 L197.3,403.81 L195.2,404 L192.64,404.22 L190.77,404.39 L188.9,404.6 L187.03,404.9 L185.16,405.24 L182.6,405.6 L180.5,405.83 L178.05,406.08 L175.4,406.33 L172.71,406.58 L170.1,406.8 L167.58,407.01 L165.06,407.21 L162.54,407.4 L160.02,407.56 L157.5,407.7 L154.91,407.8 L152.24,407.87 L149.61,407.92 L147.16,407.96 L145,408 L142.17,408.05 L139.93,408.08 L137.8,408.1 L135.66,408.12 L133.64,408.13 L131.6,408.1 L129.51,408 L127.4,407.86 L125.3,407.7 L123.2,407.53 L121.1,407.33 L119,407.1 L116.9,406.83 L114.79,406.53 L112.7,406.2 L110.63,405.85 L108.57,405.47 L106.5,405 L104.41,404.41 L102.3,403.73 L100.2,403 L98.1,402.25 L96,401.45 L93.9,400.6 L91.8,399.7 L89.69,398.75 L87.6,397.7 L85.53,396.52 L83.47,395.24 L81.4,393.9 L79.31,392.52 L77.2,391.08 L75.1,389.5 L73,387.75 L70.9,385.86 L68.8,383.9 L66.69,381.83 L64.58,379.67 L62.5,377.6 L60.26,375.47 L58.04,373.43 L56.5,372 Z" fill="#a6e5a0" stroke="none" clip-path="url(#cbl)"/>
<path d="M56.5,372 C57.5,372.93 60.45,375.62 62.5,377.6 C64.55,379.58 66.7,381.92 68.8,383.9 C70.9,385.88 73,387.83 75.1,389.5 C77.2,391.17 79.32,392.53 81.4,393.9 C83.48,395.27 85.52,396.58 87.6,397.7 C89.68,398.82 91.8,399.72 93.9,400.6 C96,401.48 98.1,402.27 100.2,403 C102.3,403.73 104.42,404.47 106.5,405 C108.58,405.53 110.62,405.85 112.7,406.2 C114.78,406.55 116.9,406.85 119,407.1 C121.1,407.35 123.2,407.53 125.3,407.7 C127.4,407.87 129.52,408.03 131.6,408.1 C133.68,408.17 135.57,408.12 137.8,408.1 C140.03,408.08 141.72,408.07 145,408 C148.28,407.93 153.32,407.9 157.5,407.7 C161.68,407.5 165.92,407.15 170.1,406.8 C174.28,406.45 179.47,405.97 182.6,405.6 C185.73,405.23 186.8,404.87 188.9,404.6 C191,404.33 192.07,404.28 195.2,404 C198.33,403.72 203.52,403.27 207.7,402.9 C211.88,402.53 217.15,402.15 220.3,401.8 C223.45,401.45 224.52,401.17 226.6,400.8 C228.68,400.43 229.73,400.02 232.8,399.6 C235.87,399.18 239.63,398.82 245,398.3 C250.37,397.78 258.53,397.27 265,396.5 C271.47,395.73 279.62,394.33 283.8,393.7 C287.98,393.07 286.97,393.28 290.1,392.7 C293.23,392.12 298.42,390.93 302.6,390.2 C306.78,389.47 311.02,388.88 315.2,388.3 C319.38,387.72 323.52,387.22 327.7,386.7 C331.88,386.18 334.95,385.87 340.3,385.2 C345.65,384.53 356.55,383.12 359.8,382.7" fill="none" stroke="#1c2a90" stroke-width="1.2" stroke-linejoin="round" clip-path="url(#cbl)"/>
<path d="M56.5,366.3 C57.82,367.57 61.52,371.38 64.4,373.9 C67.28,376.42 70.67,379.22 73.8,381.4 C76.93,383.58 79.95,385.2 83.2,387 C86.45,388.8 89.83,390.73 93.3,392.2 C96.77,393.67 100.35,394.72 104,395.8 C107.65,396.88 111.55,397.97 115.2,398.7 C118.85,399.43 122.23,399.78 125.9,400.2 C129.57,400.62 133.53,401.07 137.2,401.2 C140.87,401.33 144.08,401.17 147.9,401 C151.72,400.83 156.3,400.4 160.1,400.2 C163.9,400 166.95,400.05 170.7,399.8 C174.45,399.55 178.83,399.1 182.6,398.7 C186.37,398.3 189.63,397.82 193.3,397.4 C196.97,396.98 200.9,396.65 204.6,396.2 C208.3,395.75 211.73,395.18 215.5,394.7 C219.27,394.22 223.48,393.8 227.2,393.3 C230.92,392.8 234,392.17 237.8,391.7 C241.6,391.23 244.32,391.07 250,390.5 C255.68,389.93 266.47,388.93 271.9,388.3 C277.33,387.67 278.83,387.22 282.6,386.7 C286.37,386.18 290.73,385.7 294.5,385.2 C298.27,384.7 301.5,384.22 305.2,383.7 C308.9,383.18 313,382.58 316.7,382.1 C320.4,381.62 323.68,381.28 327.4,380.8 C331.12,380.32 335.22,379.72 339,379.2 C342.78,378.68 346.63,378.17 350.1,377.7 C353.57,377.23 358.18,376.62 359.8,376.4" fill="none" stroke="#1f3a86" stroke-width="1.5" stroke-linejoin="round" stroke-dasharray="10.4 12.2" clip-path="url(#cbl)"/>
<path d="M56.5,358.4 C57.5,358.85 60.45,360.27 62.5,361.1 C64.55,361.93 66.7,362.67 68.8,363.4 C70.9,364.13 73,364.9 75.1,365.5 C77.2,366.1 79.32,366.53 81.4,367 C83.48,367.47 85.52,367.88 87.6,368.3 C89.68,368.72 91.8,369.17 93.9,369.5 C96,369.83 98.1,370.03 100.2,370.3 C102.3,370.57 104.42,370.87 106.5,371.1 C108.58,371.33 110.62,371.52 112.7,371.7 C114.78,371.88 116.9,372.05 119,372.2 C121.1,372.35 123.2,372.47 125.3,372.6 C127.4,372.73 128.73,372.87 131.6,373 C134.47,373.13 138.58,373.3 142.5,373.4 C146.42,373.5 150.92,373.62 155.1,373.6 C159.28,373.58 163.42,373.5 167.6,373.3 C171.78,373.1 176.02,372.72 180.2,372.4 C184.38,372.08 188.52,371.7 192.7,371.4 C196.88,371.1 201.12,370.9 205.3,370.6 C209.48,370.3 213.68,369.98 217.8,369.6 C221.92,369.22 225.47,368.75 230,368.3 C234.53,367.85 239.17,367.42 245,366.9 C250.83,366.38 257.48,366.07 265,365.2 C272.52,364.33 281.73,362.82 290.1,361.7 C298.47,360.58 306.83,359.53 315.2,358.5 C323.57,357.47 333.78,356.23 340.3,355.5 C346.82,354.77 351.97,354.33 354.3,354.1" fill="none" stroke="#9b6f70" stroke-width="1.2" stroke-linejoin="round" clip-path="url(#cbl)"/>
<path d="M137.2,320 L138.8,324.4 L141.3,328.8 L146.3,334.4 L152,340.7 L158.9,345.1 L165.8,349.5 L172.7,352 L180.2,354.5 L190.2,356.8 L199,358 L207.8,358.9 L215.3,359.4 L226.6,359.6 L239.1,359.1 L250.2,358.4 L265,357.6 L290.1,355.1 L315.2,351.9 L340.3,349.2 L359.8,347.2" fill="none" stroke="#e438f7" stroke-width="1.3" stroke-linejoin="round" clip-path="url(#cbl)"/>
<path d="M479,333.8 L480.36,335.49 L482.5,338.2 L484.39,340.62 L486.6,343.46 L488.8,346.3 L490.9,349.05 L493,351.81 L495.1,354.5 L497.2,357.07 L499.31,359.57 L501.4,362 L503.47,364.37 L505.53,366.67 L507.6,368.9 L509.69,371.07 L511.8,373.17 L513.9,375.2 L516,377.16 L518.1,379.05 L520.2,380.8 L522.3,382.38 L524.41,383.82 L526.5,385.2 L528.57,386.54 L530.63,387.81 L532.7,389 L534.79,390.11 L536.9,391.14 L539,392.1 L540.97,393 L542.95,393.83 L545.3,394.6 L547.42,395.13 L549.76,395.61 L552.3,396.09 L555,396.6 L557.32,397.05 L559.79,397.54 L562.36,398.02 L564.95,398.49 L567.5,398.9 L570.02,399.26 L572.54,399.58 L575.06,399.87 L577.58,400.14 L580.1,400.4 L582.6,400.64 L585.1,400.87 L587.6,401.07 L590.1,401.25 L592.6,401.4 L595.12,401.52 L597.64,401.61 L600.16,401.67 L602.68,401.7 L605.2,401.7 L607.7,401.65 L610.2,401.55 L612.7,401.43 L615.2,401.31 L617.7,401.2 L620.22,401.12 L622.74,401.06 L625.26,400.99 L627.78,400.91 L630.3,400.8 L632.89,400.65 L635.56,400.47 L638.19,400.28 L640.64,400.08 L642.8,399.9 L645.67,399.61 L647.96,399.34 L650,399.1 L651.26,398.99 L655,398.6 L656.89,398.39 L659.3,398.13 L662.08,397.82 L665.13,397.49 L668.31,397.14 L671.51,396.78 L674.6,396.44 L677.46,396.12 L679.97,395.83 L682,395.6 L685.8,395.14 L687.5,394.89 L690,394.5 L692.19,394.18 L694.76,393.79 L697.54,393.37 L700.34,392.94 L702.98,392.55 L705.3,392.2 L708.02,391.81 L710.23,391.49 L712.42,391.19 L715.1,390.8 L717.83,390.4 L720.92,389.94 L724.13,389.46 L727.24,389 L730,388.6 L732.53,388.24 L734.46,387.97 L736.71,387.67 L740.2,387.2 L742.38,386.91 L744.92,386.56 L747.75,386.18 L750.76,385.78 L753.86,385.36 L756.95,384.94 L759.95,384.53 L762.77,384.15 L765.3,383.8 L768.85,383.3 L772.31,382.81 L775.57,382.34 L778.47,381.91 L780.9,381.56 L782.7,381.3 L782.7,394.4 L780.75,394.78 L778.01,395.33 L774.79,395.97 L771.39,396.64 L768.12,397.27 L765.3,397.8 L762.47,398.31 L759.91,398.75 L757.5,399.15 L755.14,399.53 L752.7,399.9 L750.4,400.24 L748.3,400.53 L746.1,400.82 L743.5,401.16 L740.2,401.6 L737.96,401.9 L735.47,402.24 L732.77,402.6 L729.91,402.98 L726.95,403.38 L723.93,403.78 L720.92,404.17 L717.96,404.55 L715.1,404.9 L712.25,405.24 L709.32,405.58 L706.35,405.92 L703.37,406.25 L700.44,406.57 L697.6,406.88 L694.88,407.17 L692.33,407.45 L690,407.7 L686.48,408.07 L683.64,408.36 L681.08,408.6 L678.43,408.87 L675.3,409.2 L672.62,409.49 L669.67,409.83 L666.57,410.18 L663.43,410.54 L660.37,410.89 L657.52,411.21 L655,411.5 L652.05,411.85 L649.55,412.15 L647.31,412.43 L645.13,412.67 L642.8,412.9 L640.32,413.1 L637.83,413.28 L635.32,413.43 L632.81,413.57 L630.3,413.7 L627.78,413.82 L625.26,413.93 L622.74,414.02 L620.22,414.11 L617.7,414.2 L615.09,414.29 L612.4,414.37 L609.75,414.45 L607.3,414.53 L605.2,414.6 L602.64,414.74 L600.77,414.86 L598.9,414.9 L597.03,414.82 L595.16,414.66 L592.6,414.4 L590.5,414.2 L588.05,413.95 L585.4,413.68 L582.71,413.39 L580.1,413.1 L577.58,412.81 L575.06,412.52 L572.54,412.22 L570.02,411.88 L567.5,411.5 L564.95,411.07 L562.35,410.6 L559.78,410.09 L557.31,409.56 L555,409 L552.49,408.31 L550.26,407.59 L548.02,406.79 L545.5,405.8 L543.08,404.8 L540.39,403.64 L537.64,402.42 L535.07,401.24 L532.9,400.2 L530.3,398.85 L528.4,397.71 L526.5,396.5 L524.39,395.11 L522.3,393.64 L520.2,392.1 L518.1,390.5 L516,388.83 L513.9,387.1 L511.8,385.3 L509.69,383.44 L507.6,381.5 L505.53,379.47 L503.47,377.37 L501.4,375.2 L499.31,372.99 L497.2,370.72 L495.1,368.3 L493,365.65 L490.9,362.85 L488.8,360.1 L486.6,357.4 L484.39,354.74 L482.5,352.3 L480.36,348.91 L479,346.5 Z" fill="#a6e5a0" stroke="none" clip-path="url(#cbr)"/>
<path d="M479,345.7 C479.58,346.63 480.87,348.9 482.5,351.3 C484.13,353.7 486.7,357.27 488.8,360.1 C490.9,362.93 493,365.78 495.1,368.3 C497.2,370.82 499.32,373 501.4,375.2 C503.48,377.4 505.52,379.52 507.6,381.5 C509.68,383.48 511.8,385.33 513.9,387.1 C516,388.87 518.1,390.53 520.2,392.1 C522.3,393.67 524.38,395.15 526.5,396.5 C528.62,397.85 529.73,398.65 532.9,400.2 C536.07,401.75 541.82,404.33 545.5,405.8 C549.18,407.27 551.33,408.05 555,409 C558.67,409.95 563.32,410.82 567.5,411.5 C571.68,412.18 575.92,412.62 580.1,413.1 C584.28,413.58 589.47,414.1 592.6,414.4 C595.73,414.7 596.8,414.87 598.9,414.9 C601,414.93 602.07,414.72 605.2,414.6 C608.33,414.48 613.52,414.35 617.7,414.2 C621.88,414.05 626.12,413.92 630.3,413.7 C634.48,413.48 638.68,413.27 642.8,412.9 C646.92,412.53 649.58,412.12 655,411.5 C660.42,410.88 669.47,409.83 675.3,409.2 C681.13,408.57 683.37,408.42 690,407.7 C696.63,406.98 706.73,405.92 715.1,404.9 C723.47,403.88 733.93,402.43 740.2,401.6 C746.47,400.77 748.52,400.53 752.7,399.9 C756.88,399.27 760.3,398.72 765.3,397.8 C770.3,396.88 779.8,394.97 782.7,394.4" fill="none" stroke="#1c2a90" stroke-width="1.2" stroke-linejoin="round" clip-path="url(#cbr)"/>
<path d="M479,339.4 C480.02,340.77 482.83,344.57 485.1,347.6 C487.37,350.63 490.2,354.68 492.6,357.6 C495,360.52 496.88,362.27 499.5,365.1 C502.12,367.93 505.58,371.98 508.3,374.6 C511.02,377.22 512.98,378.5 515.8,380.8 C518.62,383.1 522.07,386.3 525.2,388.4 C528.33,390.5 531.25,391.83 534.6,393.4 C537.95,394.97 541.9,396.4 545.3,397.8 C548.7,399.2 551.5,400.67 555,401.8 C558.5,402.93 562.53,403.97 566.3,404.6 C570.07,405.23 573.83,405.28 577.6,405.6 C581.37,405.92 585.18,406.22 588.9,406.5 C592.62,406.78 596.13,407.2 599.9,407.3 C603.67,407.4 607.68,407.23 611.5,407.1 C615.32,406.97 619.05,406.73 622.8,406.5 C626.55,406.27 630.35,405.87 634,405.7 C637.65,405.53 641,405.63 644.7,405.5 C648.4,405.37 652.4,405.2 656.2,404.9 C660,404.6 663.72,404.22 667.5,403.7 C671.28,403.18 675.22,402.38 678.9,401.8 C682.58,401.22 685.97,400.77 689.6,400.2 C693.23,399.63 696.97,398.92 700.7,398.4 C704.43,397.88 708.25,397.63 712,397.1 C715.75,396.57 719.45,395.73 723.2,395.2 C726.95,394.67 730.73,394.43 734.5,393.9 C738.27,393.37 742.13,392.58 745.8,392 C749.47,391.42 752.8,390.97 756.5,390.4 C760.2,389.83 763.63,389.23 768,388.6 C772.37,387.97 780.25,386.93 782.7,386.6" fill="none" stroke="#1f3a86" stroke-width="1.5" stroke-linejoin="round" stroke-dasharray="10.4 12.2" clip-path="url(#cbr)"/>
<path d="M479,362.4 C479.58,362.75 480.87,363.52 482.5,364.5 C484.13,365.48 486.7,367.15 488.8,368.3 C490.9,369.45 493,370.35 495.1,371.4 C497.2,372.45 499.32,373.65 501.4,374.6 C503.48,375.55 505.52,376.27 507.6,377.1 C509.68,377.93 511.8,378.83 513.9,379.6 C516,380.37 518.1,381.03 520.2,381.7 C522.3,382.37 524.42,383.02 526.5,383.6 C528.58,384.18 530.62,384.68 532.7,385.2 C534.78,385.72 536.9,386.23 539,386.7 C541.1,387.17 543.2,387.62 545.3,388 C547.4,388.38 549.52,388.65 551.6,389 C553.68,389.35 555.15,389.65 557.8,390.1 C560.45,390.55 563.78,391.23 567.5,391.7 C571.22,392.17 575.92,392.57 580.1,392.9 C584.28,393.23 588.42,393.53 592.6,393.7 C596.78,393.87 601.02,393.9 605.2,393.9 C609.38,393.9 613.52,393.85 617.7,393.7 C621.88,393.55 626.12,393.2 630.3,393 C634.48,392.8 638.68,392.73 642.8,392.5 C646.92,392.27 649.58,392 655,391.6 C660.42,391.2 669.47,390.57 675.3,390.1 C681.13,389.63 683.37,389.55 690,388.8 C696.63,388.05 706.73,386.77 715.1,385.6 C723.47,384.43 731.83,383 740.2,381.8 C748.57,380.6 759.03,379.25 765.3,378.4 C771.57,377.55 775.72,376.98 777.8,376.7" fill="none" stroke="#9b6f70" stroke-width="1.2" stroke-linejoin="round" clip-path="url(#cbr)"/>
<path d="M563.2,313 L565.1,317.5 L572,330.7 L583.3,344.5 L596.4,354.6 L609,360.8 L621.5,365.2 L632.8,367.1 L645,368.6 L655,369.1 L665,369.2 L675.3,368.9 L690,367.8 L715.1,365.1 L740.2,362.3 L765.3,359 L782.7,356.5" fill="none" stroke="#e438f7" stroke-width="1.3" stroke-linejoin="round" clip-path="url(#cbr)"/>
<rect x="56.7" y="105.4" width="303.4" height="115.6" fill="none" stroke="#525252" stroke-width="1.35"/>
<text transform="translate(41.78,137.5) scale(1.07,1)" font-size="12.4" fill="#4f4a4a" stroke="#4f4a4a" stroke-width="0.3" text-anchor="end">10</text>
<text transform="translate(43.08,132.7) scale(0.97,1)" font-size="10.6" fill="#4f4a4a" stroke="#4f4a4a" stroke-width="0.3" text-anchor="start">−8</text>
<text transform="translate(41.78,175.7) scale(1.07,1)" font-size="12.4" fill="#4f4a4a" stroke="#4f4a4a" stroke-width="0.3" text-anchor="end">10</text>
<text transform="translate(43.08,170.9) scale(0.97,1)" font-size="10.6" fill="#4f4a4a" stroke="#4f4a4a" stroke-width="0.3" text-anchor="start">−9</text>
<text transform="translate(38.76,213.9) scale(1.07,1)" font-size="12.4" fill="#4f4a4a" stroke="#4f4a4a" stroke-width="0.3" text-anchor="end">10</text>
<text transform="translate(38.76,209.1) scale(0.97,1)" font-size="10.6" fill="#4f4a4a" stroke="#4f4a4a" stroke-width="0.3" text-anchor="start">−10</text>
<text transform="translate(94.7,235.4) scale(1.07,1)" font-size="12.4" fill="#4f4a4a" stroke="#4f4a4a" stroke-width="0.3" text-anchor="middle">10</text>
<text transform="translate(231.7,235.4) scale(1.07,1)" font-size="12.4" fill="#4f4a4a" stroke="#4f4a4a" stroke-width="0.3" text-anchor="end">10</text>
<text transform="translate(232.5,230.4) scale(0.97,1)" font-size="10.6" fill="#4f4a4a" stroke="#4f4a4a" stroke-width="0.3" text-anchor="start">2</text>
<text transform="translate(362.9,235.4) scale(1.07,1)" font-size="12.4" fill="#4f4a4a" stroke="#4f4a4a" stroke-width="0.3" text-anchor="end">10</text>
<text transform="translate(363.6,230.4) scale(0.97,1)" font-size="10.6" fill="#4f4a4a" stroke="#4f4a4a" stroke-width="0.3" text-anchor="start">3</text>
<text transform="translate(178.1,253.4) scale(1.14,1)" font-size="12.2" fill="#4f4a4a" stroke="#4f4a4a" stroke-width="0.3">m<tspan font-size="7" dy="2.4">&#967;</tspan><tspan dy="-2.4">[GeV/c</tspan><tspan font-size="9.6" dy="-4.4">2</tspan><tspan dy="4.4">]</tspan></text>
<text x="251.6" y="207" font-size="15.75" fill="#2e2a2a" stroke="#2e2a2a" stroke-width="0.15" text-anchor="start" >Charge radius</text>
<text transform="translate(15,149.3) rotate(-90) scale(1,1.08)" fill="#4f4a4a" stroke="#4f4a4a" stroke-width="0.3"><tspan x="0" y="1.48" font-size="16.2">|</tspan><tspan x="3.8" y="0" font-size="12.8">b</tspan><tspan x="11" y="3.52" font-size="7.2">&#967;</tspan><tspan x="16.9" y="1.48" font-size="16.2">|</tspan><tspan x="21.7" y="0" font-size="12.8">[fm</tspan><tspan x="39.9" y="-6.57" font-size="8.6">2</tspan><tspan x="47.3" y="0" font-size="12.8">]</tspan></text>
<line x1="56.7" y1="7.3" x2="56.7" y2="52.9" stroke="#525252" stroke-width="1.0" />
<line x1="56.2" y1="7.3" x2="95.3" y2="7.3" stroke="#525252" stroke-width="1.0" />
<line x1="56.7" y1="12.2" x2="62.7" y2="12.2" stroke="#1e1e1e" stroke-width="1.15" />
<line x1="56.7" y1="18.4" x2="62.7" y2="18.4" stroke="#1e1e1e" stroke-width="1.15" />
<line x1="56.7" y1="27.6" x2="62.7" y2="27.6" stroke="#1e1e1e" stroke-width="1.15" />
<line x1="56.7" y1="43.5" x2="68.3" y2="43.5" stroke="#1e1e1e" stroke-width="1.15" />
<line x1="56.7" y1="45.4" x2="62.7" y2="45.4" stroke="#1e1e1e" stroke-width="1.15" />
<line x1="56.7" y1="47.4" x2="62.7" y2="47.4" stroke="#1e1e1e" stroke-width="1.15" />
<line x1="56.7" y1="49.3" x2="62.7" y2="49.3" stroke="#1e1e1e" stroke-width="1.15" />
<line x1="56.7" y1="51.4" x2="62.7" y2="51.4" stroke="#1e1e1e" stroke-width="1.15" />
<line x1="56.7" y1="40.4" x2="96.8" y2="40.4" stroke="#4a8ad8" stroke-width="1.1" />
<text transform="translate(41.78,48) scale(1.07,1)" font-size="12.4" fill="#4f4a4a" stroke="#4f4a4a" stroke-width="0.3" text-anchor="end">10</text>
<text transform="translate(43.08,43.2) scale(0.97,1)" font-size="10.6" fill="#4f4a4a" stroke="#4f4a4a" stroke-width="0.3" text-anchor="start">−1</text>
<text x="109.6" y="40.2" font-size="16.0" fill="#1f5fc8" stroke="#1f5fc8" stroke-width="0.3" text-anchor="start" >Neutron</text>
<path d="M56.8,55.6 C59.3,56.65 59.1,58.12 57.3,59.1 C55.7,59.94 56.1,61.62 58.7,62.6" fill="none" stroke="#23264c" stroke-width="1.3" stroke-linecap="round"/>
<line x1="56.7" y1="64.4" x2="56.7" y2="99.2" stroke="#525252" stroke-width="1.0" />
<line x1="56.2" y1="64.4" x2="95.3" y2="64.4" stroke="#525252" stroke-width="1.0" />
<line x1="56.7" y1="68.2" x2="62.1" y2="68.2" stroke="#1e1e1e" stroke-width="1.15" />
<line x1="56.7" y1="72.8" x2="62.1" y2="72.8" stroke="#1e1e1e" stroke-width="1.15" />
<line x1="56.7" y1="79.3" x2="62.1" y2="79.3" stroke="#1e1e1e" stroke-width="1.15" />
<line x1="56.7" y1="91.2" x2="67.1" y2="91.2" stroke="#1e1e1e" stroke-width="1.15" />
<line x1="56.7" y1="93.7" x2="62.1" y2="93.7" stroke="#1e1e1e" stroke-width="1.15" />
<line x1="56.7" y1="95.5" x2="62.1" y2="95.5" stroke="#1e1e1e" stroke-width="1.15" />
<line x1="56.7" y1="97.4" x2="62.1" y2="97.4" stroke="#1e1e1e" stroke-width="1.15" />
<line x1="56.7" y1="78.4" x2="96.8" y2="78.4" stroke="#74d0f7" stroke-width="1.0" />
<line x1="77.1" y1="78.4" x2="77.1" y2="90.8" stroke="#74d0f7" stroke-width="1.1" />
<path d="M73.4,86.9 L77.1,90.8 L80.8,86.9" fill="none" stroke="#74d0f7" stroke-width="1.1" stroke-linejoin="miter"/>
<text transform="translate(41.78,95.9) scale(1.07,1)" font-size="12.4" fill="#4f4a4a" stroke="#4f4a4a" stroke-width="0.3" text-anchor="end">10</text>
<text transform="translate(43.08,91.1) scale(0.97,1)" font-size="10.6" fill="#4f4a4a" stroke="#4f4a4a" stroke-width="0.3" text-anchor="start">−6</text>
<text x="109.6" y="78.3" font-size="16.0" fill="#63c6f7" stroke="#63c6f7" stroke-width="0.3" text-anchor="start" >Neutrino</text>
<path d="M56.8,99.4 C59.3,100.24 59.1,101.42 57.3,102.2 C55.7,102.87 56.1,104.22 58.7,105" fill="none" stroke="#23264c" stroke-width="1.3" stroke-linecap="round"/>
<rect x="479.1" y="11.3" width="304.4" height="129.1" fill="none" stroke="#525252" stroke-width="1.35"/>
<text transform="translate(458.36,38.1) scale(1.12,1)" font-size="12.4" fill="#4f4a4a" stroke="#4f4a4a" stroke-width="0.3" text-anchor="end">10</text>
<text transform="translate(460.36,33.3) scale(0.97,1)" font-size="10.6" fill="#4f4a4a" stroke="#4f4a4a" stroke-width="0.3" text-anchor="start">−21</text>
<text transform="translate(458.36,84.6) scale(1.12,1)" font-size="12.4" fill="#4f4a4a" stroke="#4f4a4a" stroke-width="0.3" text-anchor="end">10</text>
<text transform="translate(460.36,79.8) scale(0.97,1)" font-size="10.6" fill="#4f4a4a" stroke="#4f4a4a" stroke-width="0.3" text-anchor="start">−22</text>
<text transform="translate(458.36,131) scale(1.12,1)" font-size="12.4" fill="#4f4a4a" stroke="#4f4a4a" stroke-width="0.3" text-anchor="end">10</text>
<text transform="translate(460.36,126.2) scale(0.97,1)" font-size="10.6" fill="#4f4a4a" stroke="#4f4a4a" stroke-width="0.3" text-anchor="start">−23</text>
<text transform="translate(516.1,157.5) scale(1.12,1)" font-size="12.4" fill="#4f4a4a" stroke="#4f4a4a" stroke-width="0.3" text-anchor="middle">10</text>
<text transform="translate(652.2,157.5) scale(1.12,1)" font-size="12.4" fill="#4f4a4a" stroke="#4f4a4a" stroke-width="0.3" text-anchor="end">10</text>
<text transform="translate(654.2,152.5) scale(0.97,1)" font-size="10.6" fill="#4f4a4a" stroke="#4f4a4a" stroke-width="0.3" text-anchor="start">2</text>
<text transform="translate(777.5,157.5) scale(1.12,1)" font-size="12.4" fill="#4f4a4a" stroke="#4f4a4a" stroke-width="0.3" text-anchor="middle">10</text>
<text transform="translate(603.4,169) scale(1.14,1)" font-size="12.2" fill="#4f4a4a" stroke="#4f4a4a" stroke-width="0.3">m<tspan font-size="7" dy="2.4">&#967;</tspan><tspan dy="-2.4">[GeV/c</tspan><tspan font-size="9.6" dy="-4.4">2</tspan><tspan dy="4.4">]</tspan></text>
<text x="672.2" y="206.4" font-size="15.75" fill="#2e2a2a" stroke="#2e2a2a" stroke-width="0.15" text-anchor="start" >Electric dipole</text>
<text transform="translate(435.2,108.1) rotate(-90) scale(1,1.08)" fill="#4f4a4a" stroke="#4f4a4a" stroke-width="0.3"><tspan x="0" y="1.3" font-size="16.2">|</tspan><tspan x="4.2" y="0" font-size="12.8">d</tspan><tspan x="11.6" y="3.33" font-size="7.2">&#967;</tspan><tspan x="17" y="1.3" font-size="16.2">|</tspan><tspan x="21.8" y="0" font-size="12.8">[ecm]</tspan></text>
<line x1="479.1" y1="19.35" x2="519.8" y2="19.35" stroke="#74d0f7" stroke-width="1.0" />
<line x1="499.2" y1="19.35" x2="499.2" y2="33" stroke="#74d0f7" stroke-width="1.1" />
<path d="M495.5,29.1 L499.2,33 L502.9,29.1" fill="none" stroke="#74d0f7" stroke-width="1.1" stroke-linejoin="miter"/>
<text x="511.9" y="32.6" font-size="16.0" fill="#63c6f7" stroke="#63c6f7" stroke-width="0.3" text-anchor="start" >Neutrino</text>
<path d="M479.4,151.3 C481.9,152.44 481.7,154.04 479.9,155.1 C478.3,156.01 478.7,157.84 481.3,158.9" fill="none" stroke="#23264c" stroke-width="1.3" stroke-linecap="round"/>
<line x1="479.3" y1="140.4" x2="479.3" y2="150" stroke="#525252" stroke-width="1.0" />
<line x1="479.3" y1="160.2" x2="479.3" y2="215.4" stroke="#525252" stroke-width="1.0" />
<line x1="478.8" y1="215.4" x2="519" y2="215.4" stroke="#525252" stroke-width="1.0" />
<line x1="479.3" y1="179.8" x2="484.1" y2="179.8" stroke="#1e1e1e" stroke-width="1.15" />
<line x1="479.3" y1="188.4" x2="484.1" y2="188.4" stroke="#1e1e1e" stroke-width="1.15" />
<line x1="479.3" y1="202.4" x2="489.6" y2="202.4" stroke="#1e1e1e" stroke-width="1.15" />
<line x1="479.3" y1="204.7" x2="484.1" y2="204.7" stroke="#1e1e1e" stroke-width="1.15" />
<line x1="479.3" y1="206.8" x2="484.1" y2="206.8" stroke="#1e1e1e" stroke-width="1.15" />
<line x1="479.3" y1="209.1" x2="484.1" y2="209.1" stroke="#1e1e1e" stroke-width="1.15" />
<line x1="479.3" y1="212.4" x2="484.1" y2="212.4" stroke="#1e1e1e" stroke-width="1.15" />
<line x1="479.3" y1="190.2" x2="519.7" y2="190.2" stroke="#4a8ad8" stroke-width="1.1" />
<line x1="499.3" y1="190.2" x2="499.3" y2="204" stroke="#4a8ad8" stroke-width="1.1" />
<path d="M495.6,200.1 L499.3,204 L503,200.1" fill="none" stroke="#4a8ad8" stroke-width="1.1" stroke-linejoin="miter"/>
<text transform="translate(460.56,206.3) scale(1.12,1)" font-size="12.4" fill="#4f4a4a" stroke="#4f4a4a" stroke-width="0.3" text-anchor="end">10</text>
<text transform="translate(461.36,201.5) scale(0.97,1)" font-size="10.6" fill="#4f4a4a" stroke="#4f4a4a" stroke-width="0.3" text-anchor="start">−26</text>
<text x="526.9" y="192.8" font-size="16.0" fill="#1f5fc8" stroke="#1f5fc8" stroke-width="0.3" text-anchor="start" >Neutron</text>
<rect x="56.6" y="324.3" width="303.1" height="107.6" fill="none" stroke="#525252" stroke-width="1.35"/>
<text transform="translate(42.78,328.6) scale(1.07,1)" font-size="12.4" fill="#4f4a4a" stroke="#4f4a4a" stroke-width="0.3" text-anchor="end">10</text>
<text transform="translate(43.58,323.8) scale(0.97,1)" font-size="10.6" fill="#4f4a4a" stroke="#4f4a4a" stroke-width="0.3" text-anchor="start">−7</text>
<text transform="translate(41.78,364.9) scale(1.07,1)" font-size="12.4" fill="#4f4a4a" stroke="#4f4a4a" stroke-width="0.3" text-anchor="end">10</text>
<text transform="translate(43.08,360.1) scale(0.97,1)" font-size="10.6" fill="#4f4a4a" stroke="#4f4a4a" stroke-width="0.3" text-anchor="start">−8</text>
<text transform="translate(41.78,400.9) scale(1.07,1)" font-size="12.4" fill="#4f4a4a" stroke="#4f4a4a" stroke-width="0.3" text-anchor="end">10</text>
<text transform="translate(43.08,396.1) scale(0.97,1)" font-size="10.6" fill="#4f4a4a" stroke="#4f4a4a" stroke-width="0.3" text-anchor="start">−9</text>
<text transform="translate(38.76,436.5) scale(1.07,1)" font-size="12.4" fill="#4f4a4a" stroke="#4f4a4a" stroke-width="0.3" text-anchor="end">10</text>
<text transform="translate(38.76,431.7) scale(0.97,1)" font-size="10.6" fill="#4f4a4a" stroke="#4f4a4a" stroke-width="0.3" text-anchor="start">−10</text>
<text transform="translate(94,446.5) scale(1.07,1)" font-size="12.4" fill="#4f4a4a" stroke="#4f4a4a" stroke-width="0.3" text-anchor="middle">10</text>
<text transform="translate(231,446.5) scale(1.07,1)" font-size="12.4" fill="#4f4a4a" stroke="#4f4a4a" stroke-width="0.3" text-anchor="end">10</text>
<text transform="translate(231.7,441.5) scale(0.97,1)" font-size="10.6" fill="#4f4a4a" stroke="#4f4a4a" stroke-width="0.3" text-anchor="start">2</text>
<text transform="translate(362.7,446.5) scale(1.07,1)" font-size="12.4" fill="#4f4a4a" stroke="#4f4a4a" stroke-width="0.3" text-anchor="end">10</text>
<text transform="translate(363.4,441.5) scale(0.97,1)" font-size="10.6" fill="#4f4a4a" stroke="#4f4a4a" stroke-width="0.3" text-anchor="start">3</text>
<text transform="translate(178.1,462) scale(1.14,1)" font-size="12.2" fill="#4f4a4a" stroke="#4f4a4a" stroke-width="0.3">m<tspan font-size="7" dy="2.4">&#967;</tspan><tspan dy="-2.4">[GeV/c</tspan><tspan font-size="9.6" dy="-4.4">2</tspan><tspan dy="4.4">]</tspan></text>
<text x="258.9" y="469.6" font-size="15.75" fill="#2e2a2a" stroke="#2e2a2a" stroke-width="0.15" text-anchor="start" >Magnetic dipole</text>
<text transform="translate(16.6,393.5) rotate(-90) scale(1,1.08)" fill="#4f4a4a" stroke="#4f4a4a" stroke-width="0.3"><tspan x="0" y="1.48" font-size="16.2">|</tspan><tspan x="3.2" y="0" font-size="12.8">&#956;</tspan><tspan x="7.6" y="3.89" font-size="7.2">&#967;</tspan><tspan x="13.5" y="1.48" font-size="16.2">|</tspan><tspan x="19.5" y="0" font-size="12.8">[</tspan><tspan x="23.1" y="0" font-size="12.8">&#956;</tspan><tspan x="31.5" y="4.07" font-size="8.6">B</tspan><tspan x="38.1" y="0" font-size="12.8">]</tspan></text>
<line x1="56.6" y1="269.7" x2="56.6" y2="315.4" stroke="#525252" stroke-width="1.0" />
<line x1="56.1" y1="269.7" x2="96.8" y2="269.7" stroke="#525252" stroke-width="1.0" />
<line x1="56.6" y1="278.4" x2="62" y2="278.4" stroke="#1e1e1e" stroke-width="1.15" />
<line x1="56.6" y1="294.5" x2="61.6" y2="294.5" stroke="#1e1e1e" stroke-width="1.15" />
<line x1="56.6" y1="296.7" x2="61.6" y2="296.7" stroke="#1e1e1e" stroke-width="1.15" />
<line x1="56.6" y1="299.5" x2="61.6" y2="299.5" stroke="#1e1e1e" stroke-width="1.15" />
<line x1="56.6" y1="302.7" x2="61.6" y2="302.7" stroke="#1e1e1e" stroke-width="1.15" />
<line x1="56.6" y1="306.4" x2="61.6" y2="306.4" stroke="#1e1e1e" stroke-width="1.15" />
<line x1="56.6" y1="310.8" x2="61.6" y2="310.8" stroke="#1e1e1e" stroke-width="1.15" />
<line x1="56.6" y1="292.4" x2="95.9" y2="292.4" stroke="#4a8ad8" stroke-width="1.1" />
<text transform="translate(42.38,297.2) scale(1.07,1)" font-size="12.4" fill="#4f4a4a" stroke="#4f4a4a" stroke-width="0.3" text-anchor="end">10</text>
<text transform="translate(43.18,292.4) scale(0.97,1)" font-size="10.6" fill="#4f4a4a" stroke="#4f4a4a" stroke-width="0.3" text-anchor="start">−3</text>
<text x="109.3" y="292.3" font-size="16.0" fill="#1f5fc8" stroke="#1f5fc8" stroke-width="0.3" text-anchor="start" >Neutron</text>
<path d="M56.7,316 C59.2,317.11 59,318.66 57.2,319.7 C55.6,320.59 56,322.36 58.6,323.4" fill="none" stroke="#23264c" stroke-width="1.3" stroke-linecap="round"/>
<path d="M56.7,443.5 C59.2,444.55 59,446.02 57.2,447 C55.6,447.84 56,449.52 58.6,450.5" fill="none" stroke="#23264c" stroke-width="1.3" stroke-linecap="round"/>
<line x1="56.6" y1="452.8" x2="56.6" y2="505.5" stroke="#525252" stroke-width="1.0" />
<line x1="56.1" y1="505.5" x2="94.9" y2="505.5" stroke="#525252" stroke-width="1.0" />
<line x1="56.6" y1="469.9" x2="61.6" y2="469.9" stroke="#1e1e1e" stroke-width="1.15" />
<line x1="56.6" y1="478.5" x2="61.6" y2="478.5" stroke="#1e1e1e" stroke-width="1.15" />
<line x1="56.6" y1="492.2" x2="66.6" y2="492.2" stroke="#1e1e1e" stroke-width="1.15" />
<line x1="56.6" y1="495" x2="61.6" y2="495" stroke="#1e1e1e" stroke-width="1.15" />
<line x1="56.6" y1="497.6" x2="61.6" y2="497.6" stroke="#1e1e1e" stroke-width="1.15" />
<line x1="56.6" y1="500.4" x2="61.6" y2="500.4" stroke="#1e1e1e" stroke-width="1.15" />
<line x1="56.6" y1="503" x2="61.6" y2="503" stroke="#1e1e1e" stroke-width="1.15" />
<line x1="56.6" y1="471.4" x2="95.9" y2="471.4" stroke="#74d0f7" stroke-width="1.0" />
<line x1="76.5" y1="471.4" x2="76.5" y2="485.4" stroke="#74d0f7" stroke-width="1.1" />
<path d="M72.8,481.5 L76.5,485.4 L80.2,481.5" fill="none" stroke="#74d0f7" stroke-width="1.1" stroke-linejoin="miter"/>
<text transform="translate(38.56,496.7) scale(1.07,1)" font-size="12.4" fill="#4f4a4a" stroke="#4f4a4a" stroke-width="0.3" text-anchor="end">10</text>
<text transform="translate(38.76,491.9) scale(0.97,1)" font-size="10.6" fill="#4f4a4a" stroke="#4f4a4a" stroke-width="0.3" text-anchor="start">−11</text>
<text x="104.5" y="477.4" font-size="16.0" fill="#63c6f7" stroke="#63c6f7" stroke-width="0.3" text-anchor="start" >Neutrino</text>
<rect x="479.2" y="317.4" width="303.4" height="111.5" fill="none" stroke="#525252" stroke-width="1.35"/>
<text transform="translate(458.66,342.9) scale(1.07,1)" font-size="12.4" fill="#4f4a4a" stroke="#4f4a4a" stroke-width="0.3" text-anchor="end">10</text>
<text transform="translate(459.26,338.1) scale(0.97,1)" font-size="10.6" fill="#4f4a4a" stroke="#4f4a4a" stroke-width="0.3" text-anchor="start">−31</text>
<text transform="translate(458.66,384.9) scale(1.07,1)" font-size="12.4" fill="#4f4a4a" stroke="#4f4a4a" stroke-width="0.3" text-anchor="end">10</text>
<text transform="translate(459.26,380.1) scale(0.97,1)" font-size="10.6" fill="#4f4a4a" stroke="#4f4a4a" stroke-width="0.3" text-anchor="start">−32</text>
<text transform="translate(458.66,427.1) scale(1.07,1)" font-size="12.4" fill="#4f4a4a" stroke="#4f4a4a" stroke-width="0.3" text-anchor="end">10</text>
<text transform="translate(459.26,422.3) scale(0.97,1)" font-size="10.6" fill="#4f4a4a" stroke="#4f4a4a" stroke-width="0.3" text-anchor="start">−33</text>
<text transform="translate(516.3,443.3) scale(1.07,1)" font-size="12.4" fill="#4f4a4a" stroke="#4f4a4a" stroke-width="0.3" text-anchor="middle">10</text>
<text transform="translate(653.4,443.3) scale(1.07,1)" font-size="12.4" fill="#4f4a4a" stroke="#4f4a4a" stroke-width="0.3" text-anchor="end">10</text>
<text transform="translate(654,438.3) scale(0.97,1)" font-size="10.6" fill="#4f4a4a" stroke="#4f4a4a" stroke-width="0.3" text-anchor="start">2</text>
<text transform="translate(786.3,443.3) scale(1.07,1)" font-size="12.4" fill="#4f4a4a" stroke="#4f4a4a" stroke-width="0.3" text-anchor="end">10</text>
<text transform="translate(786.2,438.3) scale(0.97,1)" font-size="10.6" fill="#4f4a4a" stroke="#4f4a4a" stroke-width="0.3" text-anchor="start">3</text>
<text transform="translate(600.3,458.3) scale(1.14,1)" font-size="12.2" fill="#4f4a4a" stroke="#4f4a4a" stroke-width="0.3">m<tspan font-size="7" dy="2.4">&#967;</tspan><tspan dy="-2.4">[GeV/c</tspan><tspan font-size="9.6" dy="-4.4">2</tspan><tspan dy="4.4">]</tspan></text>
<text x="713.8" y="484.5" font-size="15.75" fill="#2e2a2a" stroke="#2e2a2a" stroke-width="0.15" text-anchor="start" >Anapole</text>
<text transform="translate(437.6,399.6) rotate(-90) scale(1,1.08)" fill="#4f4a4a" stroke="#4f4a4a" stroke-width="0.3"><tspan x="0" y="2.41" font-size="15.0">|</tspan><tspan x="5.3" y="0" font-size="12.8">a</tspan><tspan x="13.9" y="4.07" font-size="7.2">&#967;</tspan><tspan x="19.9" y="2.41" font-size="15.0">|</tspan><tspan x="28.4" y="-0.37" font-size="9.6">[cm</tspan><tspan x="52.7" y="-0.93" font-size="12.0">]</tspan></text>
<line x1="479.3" y1="263.2" x2="479.3" y2="309" stroke="#525252" stroke-width="1.0" />
<line x1="478.8" y1="263.2" x2="517.4" y2="263.2" stroke="#525252" stroke-width="1.0" />
<line x1="479.3" y1="271.6" x2="484.1" y2="271.6" stroke="#1e1e1e" stroke-width="1.15" />
<line x1="479.3" y1="288" x2="484.1" y2="288" stroke="#1e1e1e" stroke-width="1.15" />
<line x1="479.3" y1="290.2" x2="484.1" y2="290.2" stroke="#1e1e1e" stroke-width="1.15" />
<line x1="479.3" y1="292.7" x2="484.1" y2="292.7" stroke="#1e1e1e" stroke-width="1.15" />
<line x1="479.3" y1="295.8" x2="484.1" y2="295.8" stroke="#1e1e1e" stroke-width="1.15" />
<line x1="479.3" y1="299.6" x2="484.1" y2="299.6" stroke="#1e1e1e" stroke-width="1.15" />
<line x1="479.3" y1="304.6" x2="484.1" y2="304.6" stroke="#1e1e1e" stroke-width="1.15" />
<line x1="479.3" y1="286.4" x2="518.4" y2="286.4" stroke="#4a8ad8" stroke-width="1.1" />
<text transform="translate(460.26,291.1) scale(1.07,1)" font-size="12.4" fill="#4f4a4a" stroke="#4f4a4a" stroke-width="0.3" text-anchor="end">10</text>
<text transform="translate(460.26,286.3) scale(0.97,1)" font-size="10.6" fill="#4f4a4a" stroke="#4f4a4a" stroke-width="0.3" text-anchor="start">−28</text>
<text x="531.5" y="285.6" font-size="16.0" fill="#1f5fc8" stroke="#1f5fc8" stroke-width="0.3" text-anchor="start" >Neutron</text>
<path d="M479.4,310 C481.9,310.99 481.7,312.38 479.9,313.3 C478.3,314.09 478.7,315.68 481.3,316.6" fill="none" stroke="#23264c" stroke-width="1.3" stroke-linecap="round"/>
<path d="M479.4,438.5 C481.9,439.55 481.7,441.02 479.9,442 C478.3,442.84 478.7,444.52 481.3,445.5" fill="none" stroke="#23264c" stroke-width="1.3" stroke-linecap="round"/>
<line x1="479.3" y1="429" x2="479.3" y2="436.8" stroke="#525252" stroke-width="1.0" />
<line x1="479.3" y1="447" x2="479.3" y2="498.9" stroke="#525252" stroke-width="1.0" />
<line x1="478.8" y1="498.9" x2="517.4" y2="498.9" stroke="#525252" stroke-width="1.0" />
<line x1="479.3" y1="460.3" x2="484.1" y2="460.3" stroke="#1e1e1e" stroke-width="1.15" />
<line x1="479.3" y1="473.5" x2="484.1" y2="473.5" stroke="#1e1e1e" stroke-width="1.15" />
<line x1="479.3" y1="475.5" x2="484.1" y2="475.5" stroke="#1e1e1e" stroke-width="1.15" />
<line x1="479.3" y1="477.9" x2="484.1" y2="477.9" stroke="#1e1e1e" stroke-width="1.15" />
<line x1="479.3" y1="480.8" x2="484.1" y2="480.8" stroke="#1e1e1e" stroke-width="1.15" />
<line x1="479.3" y1="484.2" x2="484.1" y2="484.2" stroke="#1e1e1e" stroke-width="1.15" />
<line x1="479.3" y1="488" x2="484.1" y2="488" stroke="#1e1e1e" stroke-width="1.15" />
<line x1="479.3" y1="492.5" x2="484.1" y2="492.5" stroke="#1e1e1e" stroke-width="1.15" />
<line x1="479.3" y1="472.1" x2="518.4" y2="472.1" stroke="#74d0f7" stroke-width="1.0" />
<text transform="translate(460.26,475.6) scale(1.07,1)" font-size="12.4" fill="#4f4a4a" stroke="#4f4a4a" stroke-width="0.3" text-anchor="end">10</text>
<text transform="translate(460.26,470.8) scale(0.97,1)" font-size="10.6" fill="#4f4a4a" stroke="#4f4a4a" stroke-width="0.3" text-anchor="start">−34</text>
<text x="531.5" y="472.4" font-size="16.0" fill="#63c6f7" stroke="#63c6f7" stroke-width="0.3" text-anchor="start" >Neutrino</text>
<line x1="163.6" y1="585.8" x2="209.2" y2="585.8" stroke="#5c68c0" stroke-width="1.2" />
<text x="221.2" y="592.9" font-size="15.9" fill="#2e2a2a" stroke="#2e2a2a" stroke-width="0.3" text-anchor="start" >PandaX-4T</text>
<line x1="342.8" y1="585.8" x2="387.3" y2="585.8" stroke="#c2a4a4" stroke-width="1.2" />
<text x="400.6" y="592.9" font-size="15.9" fill="#2e2a2a" stroke="#2e2a2a" stroke-width="0.3" text-anchor="start" >PICO-60</text>
<line x1="504.6" y1="585.8" x2="550.2" y2="585.8" stroke="#ee74fa" stroke-width="1.2" />
<text x="560" y="592.9" font-size="15.9" fill="#2e2a2a" stroke="#2e2a2a" stroke-width="0.3" text-anchor="start" >DEAP-3600</text>
</svg>
</body>
</html>
